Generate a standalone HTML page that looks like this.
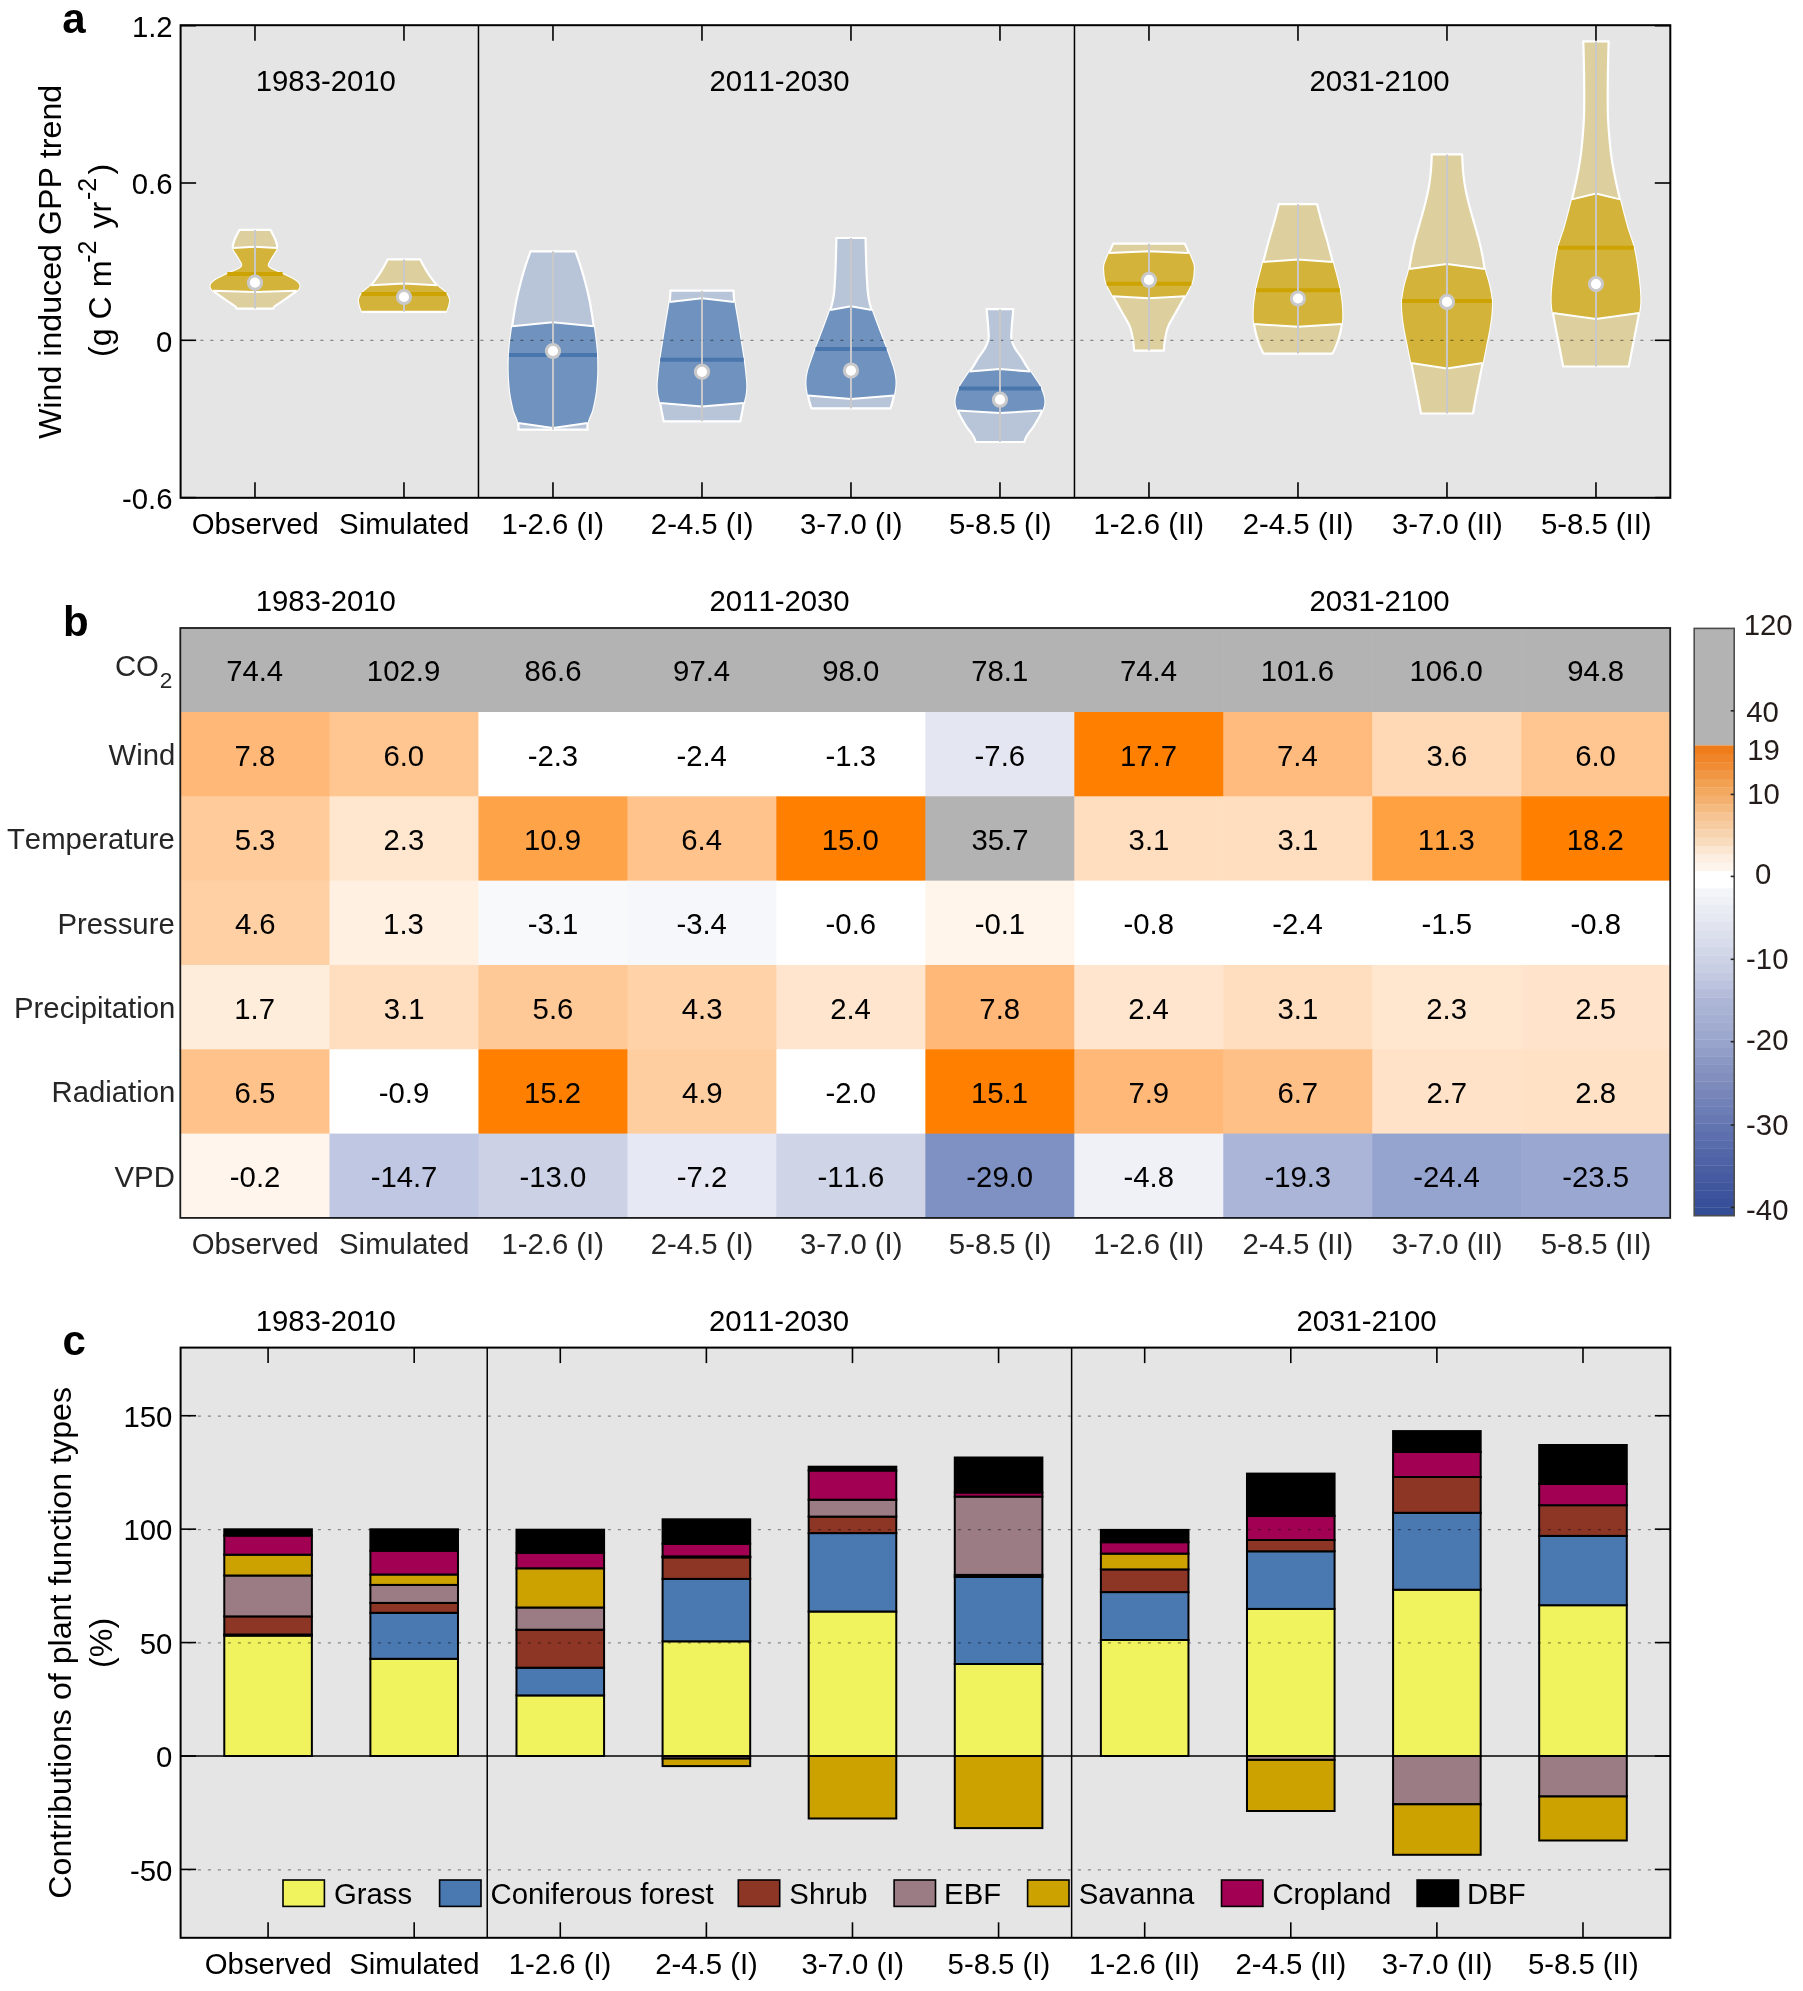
<!DOCTYPE html>
<html><head><meta charset="utf-8"><title>Figure</title>
<style>
html,body{margin:0;padding:0;background:#fff;}
svg{display:block;will-change:transform;}
text{font-family:"Liberation Sans",Arial,Helvetica,sans-serif;font-kerning:none;}
</style></head><body>
<svg width="1803" height="1991" viewBox="0 0 1803 1991">
<rect width="1803" height="1991" fill="#fff"/>
<rect x="180.6" y="25.2" width="1489.7" height="472.6" fill="#e5e5e5"/>
<polygon points="270.47,229.9 271.05,230.9 271.6,231.89 272.12,232.89 272.62,233.88 273.11,234.88 273.58,235.88 274.05,236.87 274.51,237.87 274.96,238.87 275.38,239.86 275.77,240.86 276.12,241.85 276.43,242.85 276.7,243.85 276.92,244.84 277.09,245.84 277.13,246.84 277.01,247.83 276.73,248.83 276.29,249.82 275.71,250.82 275.09,251.82 274.44,252.81 273.78,253.81 273.13,254.81 272.48,255.8 271.85,256.8 271.23,257.79 270.64,258.79 270.06,259.79 269.49,260.78 268.93,261.78 268.38,262.77 267.93,263.77 267.72,264.77 267.83,265.76 268.32,266.76 269.29,267.76 270.8,268.75 272.83,269.75 275.08,270.74 277.45,271.74 279.81,272.74 282.04,273.73 284.17,274.73 286.27,275.73 288.32,276.72 290.33,277.72 292.26,278.71 293.99,279.71 295.51,280.71 296.79,281.7 297.84,282.7 298.63,283.69 299.16,284.69 299.43,285.69 299.41,286.68 299.13,287.68 298.62,288.68 297.9,289.67 296.96,290.67 295.81,291.66 294.47,292.66 293.08,293.66 291.69,294.65 290.3,295.65 288.89,296.65 287.48,297.64 286.07,298.64 284.64,299.63 283.2,300.63 281.72,301.63 280.22,302.62 278.72,303.62 277.22,304.62 275.76,305.61 274.38,306.61 273.64,307.6 273.37,308.6 236.57,308.6 236.3,307.6 235.56,306.61 234.18,305.61 232.72,304.62 231.22,303.62 229.72,302.62 228.22,301.63 226.74,300.63 225.3,299.63 223.87,298.64 222.46,297.64 221.05,296.65 219.64,295.65 218.25,294.65 216.86,293.66 215.47,292.66 214.13,291.66 212.98,290.67 212.04,289.67 211.32,288.68 210.81,287.68 210.53,286.68 210.51,285.69 210.78,284.69 211.31,283.69 212.1,282.7 213.15,281.7 214.43,280.71 215.95,279.71 217.68,278.71 219.61,277.72 221.62,276.72 223.67,275.73 225.77,274.73 227.9,273.73 230.13,272.74 232.49,271.74 234.86,270.74 237.11,269.75 239.14,268.75 240.65,267.76 241.62,266.76 242.11,265.76 242.22,264.77 242.01,263.77 241.56,262.77 241.01,261.78 240.45,260.78 239.88,259.79 239.3,258.79 238.71,257.79 238.09,256.8 237.46,255.8 236.81,254.81 236.16,253.81 235.5,252.81 234.85,251.82 234.23,250.82 233.65,249.82 233.21,248.83 232.93,247.83 232.81,246.84 232.85,245.84 233.02,244.84 233.24,243.85 233.51,242.85 233.82,241.85 234.17,240.86 234.56,239.86 234.98,238.87 235.43,237.87 235.89,236.87 236.36,235.88 236.83,234.88 237.32,233.88 237.82,232.89 238.34,231.89 238.89,230.9 239.47,229.9" fill="#ddd09e" stroke="#fff" stroke-width="2.2" stroke-linejoin="round"/>
<polygon points="254.97,246.8 276.96,248 276.73,248.83 276.29,249.82 275.71,250.82 275.09,251.82 274.44,252.81 273.78,253.81 273.13,254.81 272.48,255.8 271.85,256.8 271.23,257.79 270.64,258.79 270.06,259.79 269.49,260.78 268.93,261.78 268.38,262.77 267.93,263.77 267.72,264.77 267.83,265.76 268.32,266.76 269.29,267.76 270.8,268.75 272.83,269.75 275.08,270.74 277.45,271.74 279.81,272.74 282.04,273.73 284.17,274.73 286.27,275.73 288.32,276.72 290.33,277.72 292.26,278.71 293.99,279.71 295.51,280.71 296.79,281.7 297.84,282.7 298.63,283.69 299.16,284.69 299.43,285.69 299.41,286.68 299.13,287.68 298.62,288.68 297.9,289.67 296.96,290.67 296.81,290.8 254.97,292 213.13,290.8 212.98,290.67 212.04,289.67 211.32,288.68 210.81,287.68 210.53,286.68 210.51,285.69 210.78,284.69 211.31,283.69 212.1,282.7 213.15,281.7 214.43,280.71 215.95,279.71 217.68,278.71 219.61,277.72 221.62,276.72 223.67,275.73 225.77,274.73 227.9,273.73 230.13,272.74 232.49,271.74 234.86,270.74 237.11,269.75 239.14,268.75 240.65,267.76 241.62,266.76 242.11,265.76 242.22,264.77 242.01,263.77 241.56,262.77 241.01,261.78 240.45,260.78 239.88,259.79 239.3,258.79 238.71,257.79 238.09,256.8 237.46,255.8 236.81,254.81 236.16,253.81 235.5,252.81 234.85,251.82 234.23,250.82 233.65,249.82 233.21,248.83 232.98,248" fill="#d3b33a"/>
<polyline points="232.98,248 254.97,246.8 276.96,248" fill="none" stroke="#fff" stroke-width="2"/>
<polyline points="213.13,290.8 254.97,292 296.81,290.8" fill="none" stroke="#fff" stroke-width="2"/>
<line x1="227.33" y1="274" x2="282.61" y2="274" stroke="#cca300" stroke-width="4"/>
<polygon points="420.27,259.4 420.73,260.39 421.21,261.37 421.71,262.36 422.23,263.35 422.76,264.33 423.3,265.32 423.85,266.31 424.42,267.29 424.99,268.28 425.57,269.27 426.16,270.25 426.75,271.24 427.35,272.23 427.96,273.22 428.6,274.2 429.26,275.19 429.94,276.18 430.64,277.16 431.36,278.15 432.09,279.14 432.84,280.12 433.61,281.11 434.38,282.1 435.17,283.08 435.97,284.07 436.77,285.06 437.65,286.04 438.75,287.03 439.99,288.02 441.3,289 442.6,289.99 443.82,290.98 444.86,291.96 445.72,292.95 446.47,293.94 447.14,294.92 447.72,295.91 448.2,296.9 448.57,297.88 448.84,298.87 448.99,299.86 449.03,300.85 448.94,301.83 448.79,302.82 448.61,303.81 448.39,304.79 448.13,305.78 447.83,306.77 447.49,307.75 447.12,308.74 446.74,309.73 446.33,310.71 445.87,311.7 362.07,311.7 361.61,310.71 361.2,309.73 360.82,308.74 360.45,307.75 360.11,306.77 359.81,305.78 359.55,304.79 359.33,303.81 359.15,302.82 359,301.83 358.91,300.85 358.95,299.86 359.1,298.87 359.37,297.88 359.74,296.9 360.22,295.91 360.8,294.92 361.47,293.94 362.22,292.95 363.08,291.96 364.12,290.98 365.34,289.99 366.64,289 367.95,288.02 369.19,287.03 370.29,286.04 371.17,285.06 371.97,284.07 372.77,283.08 373.56,282.1 374.33,281.11 375.1,280.12 375.85,279.14 376.58,278.15 377.3,277.16 378,276.18 378.68,275.19 379.34,274.2 379.98,273.22 380.59,272.23 381.19,271.24 381.78,270.25 382.37,269.27 382.95,268.28 383.52,267.29 384.09,266.31 384.64,265.32 385.18,264.33 385.71,263.35 386.23,262.36 386.73,261.37 387.21,260.39 387.67,259.4" fill="#ddd09e" stroke="#fff" stroke-width="2.2" stroke-linejoin="round"/>
<polygon points="403.97,283.5 436.99,285.3 437.65,286.04 438.75,287.03 439.99,288.02 441.3,289 442.6,289.99 443.82,290.98 444.86,291.96 445.72,292.95 446.47,293.94 447.14,294.92 447.72,295.91 448.2,296.9 448.57,297.88 448.84,298.87 448.99,299.86 449.03,300.85 448.94,301.83 448.79,302.82 448.61,303.81 448.39,304.79 448.13,305.78 447.83,306.77 447.49,307.75 447.12,308.74 446.74,309.73 446.33,310.71 445.87,311.7 403.97,311.7 362.07,311.7 361.61,310.71 361.2,309.73 360.82,308.74 360.45,307.75 360.11,306.77 359.81,305.78 359.55,304.79 359.33,303.81 359.15,302.82 359,301.83 358.91,300.85 358.95,299.86 359.1,298.87 359.37,297.88 359.74,296.9 360.22,295.91 360.8,294.92 361.47,293.94 362.22,292.95 363.08,291.96 364.12,290.98 365.34,289.99 366.64,289 367.95,288.02 369.19,287.03 370.29,286.04 370.95,285.3" fill="#d3b33a"/>
<polyline points="370.95,285.3 403.97,283.5 436.99,285.3" fill="none" stroke="#fff" stroke-width="2"/>
<polyline points="362.07,311.7 403.97,311.7 445.87,311.7" fill="none" stroke="#fff" stroke-width="2"/>
<line x1="361.5" y1="293.9" x2="446.44" y2="293.9" stroke="#cca300" stroke-width="4"/>
<polygon points="575.47,251.3 575.83,252.3 576.18,253.29 576.54,254.29 576.89,255.29 577.24,256.28 577.58,257.28 577.92,258.28 578.26,259.27 578.6,260.27 578.93,261.27 579.26,262.26 579.59,263.26 579.91,264.26 580.23,265.25 580.55,266.25 580.86,267.25 581.17,268.24 581.48,269.24 581.79,270.24 582.09,271.23 582.39,272.23 582.68,273.23 582.97,274.22 583.26,275.22 583.55,276.22 583.83,277.21 584.11,278.21 584.38,279.21 584.65,280.2 584.92,281.2 585.19,282.2 585.45,283.19 585.71,284.19 585.97,285.19 586.23,286.18 586.48,287.18 586.73,288.18 586.98,289.17 587.22,290.17 587.47,291.17 587.7,292.16 587.94,293.16 588.17,294.16 588.39,295.15 588.61,296.15 588.83,297.15 589.05,298.14 589.25,299.14 589.46,300.14 589.66,301.13 589.85,302.13 590.04,303.13 590.23,304.12 590.41,305.12 590.59,306.12 590.76,307.11 590.93,308.11 591.1,309.11 591.27,310.1 591.44,311.1 591.6,312.1 591.77,313.09 591.93,314.09 592.09,315.09 592.24,316.08 592.4,317.08 592.56,318.08 592.71,319.07 592.86,320.07 593.01,321.07 593.16,322.06 593.31,323.06 593.46,324.06 593.6,325.05 593.75,326.05 593.89,327.05 594.03,328.04 594.18,329.04 594.32,330.04 594.45,331.03 594.59,332.03 594.73,333.03 594.86,334.02 594.99,335.02 595.12,336.02 595.25,337.01 595.38,338.01 595.5,339.01 595.63,340 595.75,341 595.86,341.99 595.98,342.99 596.09,343.99 596.21,344.98 596.31,345.98 596.42,346.98 596.52,347.97 596.61,348.97 596.69,349.97 596.76,350.96 596.83,351.96 596.89,352.96 596.95,353.95 597,354.95 597.04,355.95 597.08,356.94 597.11,357.94 597.14,358.94 597.17,359.93 597.19,360.93 597.21,361.93 597.23,362.92 597.24,363.92 597.25,364.92 597.26,365.91 597.27,366.91 597.28,367.91 597.28,368.9 597.27,369.9 597.25,370.9 597.24,371.89 597.21,372.89 597.18,373.89 597.14,374.88 597.1,375.88 597.06,376.88 597.01,377.87 596.96,378.87 596.9,379.87 596.83,380.86 596.77,381.86 596.7,382.86 596.62,383.85 596.55,384.85 596.46,385.85 596.38,386.84 596.29,387.84 596.2,388.84 596.1,389.83 595.98,390.83 595.86,391.83 595.73,392.82 595.58,393.82 595.43,394.82 595.27,395.81 595.1,396.81 594.92,397.81 594.74,398.8 594.55,399.8 594.35,400.8 594.15,401.79 593.94,402.79 593.72,403.79 593.5,404.78 593.28,405.78 593.05,406.78 592.82,407.77 592.59,408.77 592.35,409.77 592.08,410.76 591.76,411.76 591.39,412.76 590.99,413.75 590.57,414.75 590.13,415.75 589.71,416.74 589.29,417.74 588.9,418.74 588.54,419.73 588.22,420.73 587.97,421.73 587.76,422.72 587.61,423.72 587.51,424.72 587.44,425.71 587.42,426.71 587.44,427.71 587.49,428.7 587.57,429.7 518.37,429.7 518.45,428.7 518.5,427.71 518.52,426.71 518.5,425.71 518.43,424.72 518.33,423.72 518.18,422.72 517.97,421.73 517.72,420.73 517.4,419.73 517.04,418.74 516.65,417.74 516.23,416.74 515.81,415.75 515.37,414.75 514.95,413.75 514.55,412.76 514.18,411.76 513.86,410.76 513.59,409.77 513.35,408.77 513.12,407.77 512.89,406.78 512.66,405.78 512.44,404.78 512.22,403.79 512,402.79 511.79,401.79 511.59,400.8 511.39,399.8 511.2,398.8 511.02,397.81 510.84,396.81 510.67,395.81 510.51,394.82 510.36,393.82 510.21,392.82 510.08,391.83 509.96,390.83 509.84,389.83 509.74,388.84 509.65,387.84 509.56,386.84 509.48,385.85 509.39,384.85 509.32,383.85 509.24,382.86 509.17,381.86 509.11,380.86 509.04,379.87 508.98,378.87 508.93,377.87 508.88,376.88 508.84,375.88 508.8,374.88 508.76,373.89 508.73,372.89 508.7,371.89 508.69,370.9 508.67,369.9 508.66,368.9 508.66,367.91 508.67,366.91 508.68,365.91 508.69,364.92 508.7,363.92 508.71,362.92 508.73,361.93 508.75,360.93 508.77,359.93 508.8,358.94 508.83,357.94 508.86,356.94 508.9,355.95 508.94,354.95 508.99,353.95 509.05,352.96 509.11,351.96 509.18,350.96 509.25,349.97 509.33,348.97 509.42,347.97 509.52,346.98 509.63,345.98 509.73,344.98 509.85,343.99 509.96,342.99 510.08,341.99 510.19,341 510.31,340 510.44,339.01 510.56,338.01 510.69,337.01 510.82,336.02 510.95,335.02 511.08,334.02 511.21,333.03 511.35,332.03 511.49,331.03 511.62,330.04 511.76,329.04 511.91,328.04 512.05,327.05 512.19,326.05 512.34,325.05 512.48,324.06 512.63,323.06 512.78,322.06 512.93,321.07 513.08,320.07 513.23,319.07 513.38,318.08 513.54,317.08 513.7,316.08 513.85,315.09 514.01,314.09 514.17,313.09 514.34,312.1 514.5,311.1 514.67,310.1 514.84,309.11 515.01,308.11 515.18,307.11 515.35,306.12 515.53,305.12 515.71,304.12 515.9,303.13 516.09,302.13 516.28,301.13 516.48,300.14 516.69,299.14 516.89,298.14 517.11,297.15 517.33,296.15 517.55,295.15 517.77,294.16 518,293.16 518.24,292.16 518.47,291.17 518.72,290.17 518.96,289.17 519.21,288.18 519.46,287.18 519.71,286.18 519.97,285.19 520.23,284.19 520.49,283.19 520.75,282.2 521.02,281.2 521.29,280.2 521.56,279.21 521.83,278.21 522.11,277.21 522.39,276.22 522.68,275.22 522.97,274.22 523.26,273.23 523.55,272.23 523.85,271.23 524.15,270.24 524.46,269.24 524.77,268.24 525.08,267.25 525.39,266.25 525.71,265.25 526.03,264.26 526.35,263.26 526.68,262.26 527.01,261.27 527.34,260.27 527.68,259.27 528.02,258.28 528.36,257.28 528.7,256.28 529.05,255.29 529.4,254.29 529.76,253.29 530.11,252.3 530.47,251.3" fill="#b8c5d8" stroke="#fff" stroke-width="2.2" stroke-linejoin="round"/>
<polygon points="552.97,322.3 593.77,326.2 593.89,327.05 594.03,328.04 594.18,329.04 594.32,330.04 594.45,331.03 594.59,332.03 594.73,333.03 594.86,334.02 594.99,335.02 595.12,336.02 595.25,337.01 595.38,338.01 595.5,339.01 595.63,340 595.75,341 595.86,341.99 595.98,342.99 596.09,343.99 596.21,344.98 596.31,345.98 596.42,346.98 596.52,347.97 596.61,348.97 596.69,349.97 596.76,350.96 596.83,351.96 596.89,352.96 596.95,353.95 597,354.95 597.04,355.95 597.08,356.94 597.11,357.94 597.14,358.94 597.17,359.93 597.19,360.93 597.21,361.93 597.23,362.92 597.24,363.92 597.25,364.92 597.26,365.91 597.27,366.91 597.28,367.91 597.28,368.9 597.27,369.9 597.25,370.9 597.24,371.89 597.21,372.89 597.18,373.89 597.14,374.88 597.1,375.88 597.06,376.88 597.01,377.87 596.96,378.87 596.9,379.87 596.83,380.86 596.77,381.86 596.7,382.86 596.62,383.85 596.55,384.85 596.46,385.85 596.38,386.84 596.29,387.84 596.2,388.84 596.1,389.83 595.98,390.83 595.86,391.83 595.73,392.82 595.58,393.82 595.43,394.82 595.27,395.81 595.1,396.81 594.92,397.81 594.74,398.8 594.55,399.8 594.35,400.8 594.15,401.79 593.94,402.79 593.72,403.79 593.5,404.78 593.28,405.78 593.05,406.78 592.82,407.77 592.59,408.77 592.35,409.77 592.08,410.76 591.76,411.76 591.39,412.76 590.99,413.75 590.57,414.75 590.13,415.75 589.71,416.74 589.29,417.74 588.9,418.74 588.54,419.73 588.22,420.73 587.97,421.73 587.76,422.72 587.72,423 552.97,428 518.22,423 518.18,422.72 517.97,421.73 517.72,420.73 517.4,419.73 517.04,418.74 516.65,417.74 516.23,416.74 515.81,415.75 515.37,414.75 514.95,413.75 514.55,412.76 514.18,411.76 513.86,410.76 513.59,409.77 513.35,408.77 513.12,407.77 512.89,406.78 512.66,405.78 512.44,404.78 512.22,403.79 512,402.79 511.79,401.79 511.59,400.8 511.39,399.8 511.2,398.8 511.02,397.81 510.84,396.81 510.67,395.81 510.51,394.82 510.36,393.82 510.21,392.82 510.08,391.83 509.96,390.83 509.84,389.83 509.74,388.84 509.65,387.84 509.56,386.84 509.48,385.85 509.39,384.85 509.32,383.85 509.24,382.86 509.17,381.86 509.11,380.86 509.04,379.87 508.98,378.87 508.93,377.87 508.88,376.88 508.84,375.88 508.8,374.88 508.76,373.89 508.73,372.89 508.7,371.89 508.69,370.9 508.67,369.9 508.66,368.9 508.66,367.91 508.67,366.91 508.68,365.91 508.69,364.92 508.7,363.92 508.71,362.92 508.73,361.93 508.75,360.93 508.77,359.93 508.8,358.94 508.83,357.94 508.86,356.94 508.9,355.95 508.94,354.95 508.99,353.95 509.05,352.96 509.11,351.96 509.18,350.96 509.25,349.97 509.33,348.97 509.42,347.97 509.52,346.98 509.63,345.98 509.73,344.98 509.85,343.99 509.96,342.99 510.08,341.99 510.19,341 510.31,340 510.44,339.01 510.56,338.01 510.69,337.01 510.82,336.02 510.95,335.02 511.08,334.02 511.21,333.03 511.35,332.03 511.49,331.03 511.62,330.04 511.76,329.04 511.91,328.04 512.05,327.05 512.17,326.2" fill="#7092be"/>
<polyline points="512.17,326.2 552.97,322.3 593.77,326.2" fill="none" stroke="#fff" stroke-width="2"/>
<polyline points="518.22,423 552.97,428 587.72,423" fill="none" stroke="#fff" stroke-width="2"/>
<line x1="508.94" y1="355.1" x2="597" y2="355.1" stroke="#4a76ae" stroke-width="4"/>
<polygon points="733.57,290.7 733.6,291.7 733.62,292.69 733.66,293.69 733.7,294.69 733.75,295.68 733.81,296.68 733.88,297.68 733.97,298.68 734.07,299.67 734.19,300.67 734.33,301.67 734.49,302.66 734.65,303.66 734.81,304.66 734.97,305.65 735.13,306.65 735.3,307.65 735.46,308.65 735.63,309.64 735.79,310.64 735.96,311.64 736.12,312.63 736.29,313.63 736.46,314.63 736.63,315.62 736.79,316.62 736.96,317.62 737.13,318.61 737.3,319.61 737.46,320.61 737.63,321.61 737.79,322.6 737.96,323.6 738.12,324.6 738.29,325.59 738.45,326.59 738.61,327.59 738.78,328.58 738.94,329.58 739.09,330.58 739.25,331.57 739.41,332.57 739.57,333.57 739.73,334.57 739.89,335.56 740.04,336.56 740.2,337.56 740.36,338.55 740.52,339.55 740.67,340.55 740.83,341.54 740.99,342.54 741.14,343.54 741.3,344.54 741.46,345.53 741.61,346.53 741.77,347.53 741.93,348.52 742.08,349.52 742.24,350.52 742.39,351.51 742.55,352.51 742.7,353.51 742.86,354.5 743.01,355.5 743.17,356.5 743.32,357.5 743.47,358.49 743.62,359.49 743.76,360.49 743.9,361.48 744.04,362.48 744.17,363.48 744.3,364.47 744.43,365.47 744.55,366.47 744.67,367.46 744.79,368.46 744.9,369.46 745.01,370.46 745.12,371.45 745.23,372.45 745.33,373.45 745.43,374.44 745.53,375.44 745.63,376.44 745.72,377.43 745.81,378.43 745.9,379.43 745.99,380.43 746.07,381.42 746.15,382.42 746.2,383.42 746.24,384.41 746.26,385.41 746.26,386.41 746.24,387.4 746.21,388.4 746.15,389.4 746.08,390.39 745.99,391.39 745.88,392.39 745.76,393.39 745.62,394.38 745.45,395.38 745.27,396.38 745.07,397.37 744.84,398.37 744.6,399.37 744.35,400.36 744.12,401.36 743.9,402.36 743.7,403.35 743.52,404.35 743.35,405.35 743.17,406.35 743,407.34 742.82,408.34 742.65,409.34 742.47,410.33 742.29,411.33 742.1,412.33 741.91,413.32 741.71,414.32 741.51,415.32 741.31,416.32 741.11,417.31 740.9,418.31 740.7,419.31 740.48,420.3 740.27,421.3 663.67,421.3 663.46,420.3 663.24,419.31 663.04,418.31 662.83,417.31 662.63,416.32 662.43,415.32 662.23,414.32 662.03,413.32 661.84,412.33 661.65,411.33 661.47,410.33 661.29,409.34 661.12,408.34 660.94,407.34 660.77,406.35 660.59,405.35 660.42,404.35 660.24,403.35 660.04,402.36 659.82,401.36 659.59,400.36 659.34,399.37 659.1,398.37 658.87,397.37 658.67,396.38 658.49,395.38 658.32,394.38 658.18,393.39 658.06,392.39 657.95,391.39 657.86,390.39 657.79,389.4 657.73,388.4 657.7,387.4 657.68,386.41 657.68,385.41 657.7,384.41 657.74,383.42 657.79,382.42 657.87,381.42 657.95,380.43 658.04,379.43 658.13,378.43 658.22,377.43 658.31,376.44 658.41,375.44 658.51,374.44 658.61,373.45 658.71,372.45 658.82,371.45 658.93,370.46 659.04,369.46 659.15,368.46 659.27,367.46 659.39,366.47 659.51,365.47 659.64,364.47 659.77,363.48 659.9,362.48 660.04,361.48 660.18,360.49 660.32,359.49 660.47,358.49 660.62,357.5 660.77,356.5 660.93,355.5 661.08,354.5 661.24,353.51 661.39,352.51 661.55,351.51 661.7,350.52 661.86,349.52 662.01,348.52 662.17,347.53 662.33,346.53 662.48,345.53 662.64,344.54 662.8,343.54 662.95,342.54 663.11,341.54 663.27,340.55 663.42,339.55 663.58,338.55 663.74,337.56 663.9,336.56 664.05,335.56 664.21,334.57 664.37,333.57 664.53,332.57 664.69,331.57 664.85,330.58 665,329.58 665.16,328.58 665.33,327.59 665.49,326.59 665.65,325.59 665.82,324.6 665.98,323.6 666.15,322.6 666.31,321.61 666.48,320.61 666.64,319.61 666.81,318.61 666.98,317.62 667.15,316.62 667.31,315.62 667.48,314.63 667.65,313.63 667.82,312.63 667.98,311.64 668.15,310.64 668.31,309.64 668.48,308.65 668.64,307.65 668.81,306.65 668.97,305.65 669.13,304.66 669.29,303.66 669.45,302.66 669.61,301.67 669.75,300.67 669.87,299.67 669.97,298.68 670.06,297.68 670.13,296.68 670.19,295.68 670.24,294.69 670.28,293.69 670.32,292.69 670.34,291.7 670.37,290.7" fill="#b8c5d8" stroke="#fff" stroke-width="2.2" stroke-linejoin="round"/>
<polygon points="701.97,298.2 734.37,301.9 734.49,302.66 734.65,303.66 734.81,304.66 734.97,305.65 735.13,306.65 735.3,307.65 735.46,308.65 735.63,309.64 735.79,310.64 735.96,311.64 736.12,312.63 736.29,313.63 736.46,314.63 736.63,315.62 736.79,316.62 736.96,317.62 737.13,318.61 737.3,319.61 737.46,320.61 737.63,321.61 737.79,322.6 737.96,323.6 738.12,324.6 738.29,325.59 738.45,326.59 738.61,327.59 738.78,328.58 738.94,329.58 739.09,330.58 739.25,331.57 739.41,332.57 739.57,333.57 739.73,334.57 739.89,335.56 740.04,336.56 740.2,337.56 740.36,338.55 740.52,339.55 740.67,340.55 740.83,341.54 740.99,342.54 741.14,343.54 741.3,344.54 741.46,345.53 741.61,346.53 741.77,347.53 741.93,348.52 742.08,349.52 742.24,350.52 742.39,351.51 742.55,352.51 742.7,353.51 742.86,354.5 743.01,355.5 743.17,356.5 743.32,357.5 743.47,358.49 743.62,359.49 743.76,360.49 743.9,361.48 744.04,362.48 744.17,363.48 744.3,364.47 744.43,365.47 744.55,366.47 744.67,367.46 744.79,368.46 744.9,369.46 745.01,370.46 745.12,371.45 745.23,372.45 745.33,373.45 745.43,374.44 745.53,375.44 745.63,376.44 745.72,377.43 745.81,378.43 745.9,379.43 745.99,380.43 746.07,381.42 746.15,382.42 746.2,383.42 746.24,384.41 746.26,385.41 746.26,386.41 746.24,387.4 746.21,388.4 746.15,389.4 746.08,390.39 745.99,391.39 745.88,392.39 745.76,393.39 745.62,394.38 745.45,395.38 745.27,396.38 745.07,397.37 744.84,398.37 744.6,399.37 744.35,400.36 744.12,401.36 743.9,402.36 743.77,403 701.97,406.4 660.17,403 660.04,402.36 659.82,401.36 659.59,400.36 659.34,399.37 659.1,398.37 658.87,397.37 658.67,396.38 658.49,395.38 658.32,394.38 658.18,393.39 658.06,392.39 657.95,391.39 657.86,390.39 657.79,389.4 657.73,388.4 657.7,387.4 657.68,386.41 657.68,385.41 657.7,384.41 657.74,383.42 657.79,382.42 657.87,381.42 657.95,380.43 658.04,379.43 658.13,378.43 658.22,377.43 658.31,376.44 658.41,375.44 658.51,374.44 658.61,373.45 658.71,372.45 658.82,371.45 658.93,370.46 659.04,369.46 659.15,368.46 659.27,367.46 659.39,366.47 659.51,365.47 659.64,364.47 659.77,363.48 659.9,362.48 660.04,361.48 660.18,360.49 660.32,359.49 660.47,358.49 660.62,357.5 660.77,356.5 660.93,355.5 661.08,354.5 661.24,353.51 661.39,352.51 661.55,351.51 661.7,350.52 661.86,349.52 662.01,348.52 662.17,347.53 662.33,346.53 662.48,345.53 662.64,344.54 662.8,343.54 662.95,342.54 663.11,341.54 663.27,340.55 663.42,339.55 663.58,338.55 663.74,337.56 663.9,336.56 664.05,335.56 664.21,334.57 664.37,333.57 664.53,332.57 664.69,331.57 664.85,330.58 665,329.58 665.16,328.58 665.33,327.59 665.49,326.59 665.65,325.59 665.82,324.6 665.98,323.6 666.15,322.6 666.31,321.61 666.48,320.61 666.64,319.61 666.81,318.61 666.98,317.62 667.15,316.62 667.31,315.62 667.48,314.63 667.65,313.63 667.82,312.63 667.98,311.64 668.15,310.64 668.31,309.64 668.48,308.65 668.64,307.65 668.81,306.65 668.97,305.65 669.13,304.66 669.29,303.66 669.45,302.66 669.57,301.9" fill="#7092be"/>
<polyline points="669.57,301.9 701.97,298.2 734.37,301.9" fill="none" stroke="#fff" stroke-width="2"/>
<polyline points="660.17,403 701.97,406.4 743.77,403" fill="none" stroke="#fff" stroke-width="2"/>
<line x1="660.28" y1="359.8" x2="743.66" y2="359.8" stroke="#4a76ae" stroke-width="4"/>
<polygon points="865.57,238 865.58,239 865.6,239.99 865.62,240.99 865.64,241.99 865.66,242.98 865.68,243.98 865.7,244.98 865.73,245.97 865.75,246.97 865.78,247.96 865.8,248.96 865.83,249.96 865.86,250.95 865.89,251.95 865.92,252.95 865.94,253.94 865.97,254.94 866,255.94 866.03,256.93 866.06,257.93 866.09,258.93 866.12,259.92 866.15,260.92 866.18,261.92 866.21,262.91 866.24,263.91 866.28,264.91 866.31,265.9 866.35,266.9 866.39,267.89 866.43,268.89 866.47,269.89 866.52,270.88 866.56,271.88 866.61,272.88 866.66,273.87 866.71,274.87 866.76,275.87 866.81,276.86 866.86,277.86 866.92,278.86 866.97,279.85 867.03,280.85 867.09,281.85 867.14,282.84 867.2,283.84 867.26,284.84 867.32,285.83 867.38,286.83 867.45,287.82 867.52,288.82 867.6,289.82 867.69,290.81 867.79,291.81 867.89,292.81 868.01,293.8 868.13,294.8 868.27,295.8 868.42,296.79 868.58,297.79 868.75,298.79 868.94,299.78 869.14,300.78 869.36,301.78 869.59,302.77 869.84,303.77 870.11,304.76 870.39,305.76 870.7,306.76 871.02,307.75 871.36,308.75 871.7,309.75 872.05,310.74 872.4,311.74 872.75,312.74 873.11,313.73 873.46,314.73 873.82,315.73 874.18,316.72 874.55,317.72 874.91,318.72 875.28,319.71 875.65,320.71 876.02,321.71 876.39,322.7 876.77,323.7 877.14,324.69 877.52,325.69 877.9,326.69 878.27,327.68 878.65,328.68 879.03,329.68 879.41,330.67 879.79,331.67 880.18,332.67 880.56,333.66 880.94,334.66 881.32,335.66 881.7,336.65 882.09,337.65 882.47,338.65 882.85,339.64 883.23,340.64 883.61,341.64 883.99,342.63 884.38,343.63 884.76,344.62 885.14,345.62 885.51,346.62 885.89,347.61 886.27,348.61 886.64,349.61 887.01,350.6 887.37,351.6 887.74,352.6 888.1,353.59 888.46,354.59 888.82,355.59 889.17,356.58 889.53,357.58 889.88,358.58 890.23,359.57 890.59,360.57 890.94,361.56 891.29,362.56 891.64,363.56 891.98,364.55 892.33,365.55 892.66,366.55 892.97,367.54 893.27,368.54 893.55,369.54 893.82,370.53 894.06,371.53 894.29,372.53 894.5,373.52 894.7,374.52 894.87,375.52 895.02,376.51 895.15,377.51 895.27,378.51 895.36,379.5 895.43,380.5 895.47,381.49 895.49,382.49 895.49,383.49 895.46,384.48 895.4,385.48 895.32,386.48 895.22,387.47 895.1,388.47 894.97,389.47 894.82,390.46 894.65,391.46 894.47,392.46 894.28,393.45 894.09,394.45 893.9,395.45 893.7,396.44 893.49,397.44 893.28,398.44 893.06,399.43 892.83,400.43 892.58,401.42 892.33,402.42 892.05,403.42 891.77,404.41 891.47,405.41 891.15,406.41 890.82,407.4 890.47,408.4 811.47,408.4 811.12,407.4 810.79,406.41 810.47,405.41 810.17,404.41 809.89,403.42 809.61,402.42 809.36,401.42 809.11,400.43 808.88,399.43 808.66,398.44 808.45,397.44 808.24,396.44 808.04,395.45 807.85,394.45 807.66,393.45 807.47,392.46 807.29,391.46 807.12,390.46 806.97,389.47 806.84,388.47 806.72,387.47 806.62,386.48 806.54,385.48 806.48,384.48 806.45,383.49 806.45,382.49 806.47,381.49 806.51,380.5 806.58,379.5 806.67,378.51 806.79,377.51 806.92,376.51 807.07,375.52 807.24,374.52 807.44,373.52 807.65,372.53 807.88,371.53 808.12,370.53 808.39,369.54 808.67,368.54 808.97,367.54 809.28,366.55 809.61,365.55 809.96,364.55 810.3,363.56 810.65,362.56 811,361.56 811.35,360.57 811.71,359.57 812.06,358.58 812.41,357.58 812.77,356.58 813.12,355.59 813.48,354.59 813.84,353.59 814.2,352.6 814.57,351.6 814.93,350.6 815.3,349.61 815.67,348.61 816.05,347.61 816.43,346.62 816.8,345.62 817.18,344.62 817.56,343.63 817.95,342.63 818.33,341.64 818.71,340.64 819.09,339.64 819.47,338.65 819.85,337.65 820.24,336.65 820.62,335.66 821,334.66 821.38,333.66 821.76,332.67 822.15,331.67 822.53,330.67 822.91,329.68 823.29,328.68 823.67,327.68 824.04,326.69 824.42,325.69 824.8,324.69 825.17,323.7 825.55,322.7 825.92,321.71 826.29,320.71 826.66,319.71 827.03,318.72 827.39,317.72 827.76,316.72 828.12,315.73 828.48,314.73 828.83,313.73 829.19,312.74 829.54,311.74 829.89,310.74 830.24,309.75 830.58,308.75 830.92,307.75 831.24,306.76 831.55,305.76 831.83,304.76 832.1,303.77 832.35,302.77 832.58,301.78 832.8,300.78 833,299.78 833.19,298.79 833.36,297.79 833.52,296.79 833.67,295.8 833.81,294.8 833.93,293.8 834.05,292.81 834.15,291.81 834.25,290.81 834.34,289.82 834.42,288.82 834.49,287.82 834.56,286.83 834.62,285.83 834.68,284.84 834.74,283.84 834.8,282.84 834.85,281.85 834.91,280.85 834.97,279.85 835.02,278.86 835.08,277.86 835.13,276.86 835.18,275.87 835.23,274.87 835.28,273.87 835.33,272.88 835.38,271.88 835.42,270.88 835.47,269.89 835.51,268.89 835.55,267.89 835.59,266.9 835.63,265.9 835.66,264.91 835.7,263.91 835.73,262.91 835.76,261.92 835.79,260.92 835.82,259.92 835.85,258.93 835.88,257.93 835.91,256.93 835.94,255.94 835.97,254.94 836,253.94 836.02,252.95 836.05,251.95 836.08,250.95 836.11,249.96 836.14,248.96 836.16,247.96 836.19,246.97 836.21,245.97 836.24,244.98 836.26,243.98 836.28,242.98 836.3,241.99 836.32,240.99 836.34,239.99 836.36,239 836.37,238" fill="#b8c5d8" stroke="#fff" stroke-width="2.2" stroke-linejoin="round"/>
<polygon points="850.97,306.2 871.76,309.9 872.05,310.74 872.4,311.74 872.75,312.74 873.11,313.73 873.46,314.73 873.82,315.73 874.18,316.72 874.55,317.72 874.91,318.72 875.28,319.71 875.65,320.71 876.02,321.71 876.39,322.7 876.77,323.7 877.14,324.69 877.52,325.69 877.9,326.69 878.27,327.68 878.65,328.68 879.03,329.68 879.41,330.67 879.79,331.67 880.18,332.67 880.56,333.66 880.94,334.66 881.32,335.66 881.7,336.65 882.09,337.65 882.47,338.65 882.85,339.64 883.23,340.64 883.61,341.64 883.99,342.63 884.38,343.63 884.76,344.62 885.14,345.62 885.51,346.62 885.89,347.61 886.27,348.61 886.64,349.61 887.01,350.6 887.37,351.6 887.74,352.6 888.1,353.59 888.46,354.59 888.82,355.59 889.17,356.58 889.53,357.58 889.88,358.58 890.23,359.57 890.59,360.57 890.94,361.56 891.29,362.56 891.64,363.56 891.98,364.55 892.33,365.55 892.66,366.55 892.97,367.54 893.27,368.54 893.55,369.54 893.82,370.53 894.06,371.53 894.29,372.53 894.5,373.52 894.7,374.52 894.87,375.52 895.02,376.51 895.15,377.51 895.27,378.51 895.36,379.5 895.43,380.5 895.47,381.49 895.49,382.49 895.49,383.49 895.46,384.48 895.4,385.48 895.32,386.48 895.22,387.47 895.1,388.47 894.97,389.47 894.82,390.46 894.65,391.46 894.47,392.46 894.28,393.45 894.09,394.45 893.9,395.45 893.89,395.5 850.97,398.9 808.05,395.5 808.04,395.45 807.85,394.45 807.66,393.45 807.47,392.46 807.29,391.46 807.12,390.46 806.97,389.47 806.84,388.47 806.72,387.47 806.62,386.48 806.54,385.48 806.48,384.48 806.45,383.49 806.45,382.49 806.47,381.49 806.51,380.5 806.58,379.5 806.67,378.51 806.79,377.51 806.92,376.51 807.07,375.52 807.24,374.52 807.44,373.52 807.65,372.53 807.88,371.53 808.12,370.53 808.39,369.54 808.67,368.54 808.97,367.54 809.28,366.55 809.61,365.55 809.96,364.55 810.3,363.56 810.65,362.56 811,361.56 811.35,360.57 811.71,359.57 812.06,358.58 812.41,357.58 812.77,356.58 813.12,355.59 813.48,354.59 813.84,353.59 814.2,352.6 814.57,351.6 814.93,350.6 815.3,349.61 815.67,348.61 816.05,347.61 816.43,346.62 816.8,345.62 817.18,344.62 817.56,343.63 817.95,342.63 818.33,341.64 818.71,340.64 819.09,339.64 819.47,338.65 819.85,337.65 820.24,336.65 820.62,335.66 821,334.66 821.38,333.66 821.76,332.67 822.15,331.67 822.53,330.67 822.91,329.68 823.29,328.68 823.67,327.68 824.04,326.69 824.42,325.69 824.8,324.69 825.17,323.7 825.55,322.7 825.92,321.71 826.29,320.71 826.66,319.71 827.03,318.72 827.39,317.72 827.76,316.72 828.12,315.73 828.48,314.73 828.83,313.73 829.19,312.74 829.54,311.74 829.89,310.74 830.18,309.9" fill="#7092be"/>
<polyline points="830.18,309.9 850.97,306.2 871.76,309.9" fill="none" stroke="#fff" stroke-width="2"/>
<polyline points="808.05,395.5 850.97,398.9 893.89,395.5" fill="none" stroke="#fff" stroke-width="2"/>
<line x1="815.49" y1="349.1" x2="886.45" y2="349.1" stroke="#4a76ae" stroke-width="4"/>
<polygon points="1013.37,309.2 1013.26,310.2 1013.16,311.2 1013.06,312.2 1012.96,313.19 1012.87,314.19 1012.77,315.19 1012.68,316.19 1012.59,317.19 1012.5,318.19 1012.42,319.18 1012.33,320.18 1012.24,321.18 1012.15,322.18 1012.06,323.18 1011.97,324.18 1011.88,325.18 1011.8,326.17 1011.72,327.17 1011.65,328.17 1011.58,329.17 1011.52,330.17 1011.46,331.17 1011.4,332.17 1011.36,333.16 1011.31,334.16 1011.27,335.16 1011.26,336.16 1011.3,337.16 1011.4,338.16 1011.55,339.15 1011.75,340.15 1012,341.15 1012.3,342.15 1012.65,343.15 1013.03,344.15 1013.46,345.15 1013.93,346.14 1014.44,347.14 1014.99,348.14 1015.57,349.14 1016.18,350.14 1016.85,351.14 1017.56,352.14 1018.29,353.13 1019.04,354.13 1019.78,355.13 1020.51,356.13 1021.21,357.13 1021.86,358.13 1022.47,359.12 1023.05,360.12 1023.62,361.12 1024.18,362.12 1024.75,363.12 1025.33,364.12 1025.93,365.12 1026.55,366.11 1027.21,367.11 1027.89,368.11 1028.57,369.11 1029.25,370.11 1029.94,371.11 1030.62,372.11 1031.3,373.1 1031.99,374.1 1032.67,375.1 1033.34,376.1 1034.02,377.1 1034.69,378.1 1035.37,379.09 1036.04,380.09 1036.71,381.09 1037.37,382.09 1038.03,383.09 1038.69,384.09 1039.3,385.09 1039.84,386.08 1040.32,387.08 1040.76,388.08 1041.16,389.08 1041.55,390.08 1041.92,391.08 1042.3,392.08 1042.67,393.07 1043.01,394.07 1043.32,395.07 1043.59,396.07 1043.83,397.07 1044.03,398.07 1044.19,399.06 1044.31,400.06 1044.37,401.06 1044.38,402.06 1044.33,403.06 1044.23,404.06 1044.07,405.06 1043.85,406.05 1043.58,407.05 1043.26,408.05 1042.89,409.05 1042.48,410.05 1042.05,411.05 1041.61,412.05 1041.15,413.04 1040.68,414.04 1040.19,415.04 1039.68,416.04 1039.16,417.04 1038.61,418.04 1038.04,419.03 1037.46,420.03 1036.88,421.03 1036.29,422.03 1035.69,423.03 1035.08,424.03 1034.46,425.03 1033.83,426.02 1033.2,427.02 1032.51,428.02 1031.79,429.02 1031.04,430.02 1030.28,431.02 1029.52,432.02 1028.78,433.01 1028.06,434.01 1027.39,435.01 1026.78,436.01 1026.23,437.01 1025.75,438.01 1025.32,439 1024.93,440 1024.58,441 1024.27,442 975.67,442 975.36,441 975.01,440 974.62,439 974.19,438.01 973.71,437.01 973.16,436.01 972.55,435.01 971.88,434.01 971.16,433.01 970.42,432.02 969.66,431.02 968.9,430.02 968.15,429.02 967.43,428.02 966.74,427.02 966.11,426.02 965.48,425.03 964.86,424.03 964.25,423.03 963.65,422.03 963.06,421.03 962.48,420.03 961.9,419.03 961.33,418.04 960.78,417.04 960.26,416.04 959.75,415.04 959.26,414.04 958.79,413.04 958.33,412.05 957.89,411.05 957.46,410.05 957.05,409.05 956.68,408.05 956.36,407.05 956.09,406.05 955.87,405.06 955.71,404.06 955.61,403.06 955.56,402.06 955.57,401.06 955.63,400.06 955.75,399.06 955.91,398.07 956.11,397.07 956.35,396.07 956.62,395.07 956.93,394.07 957.27,393.07 957.64,392.08 958.02,391.08 958.39,390.08 958.78,389.08 959.18,388.08 959.62,387.08 960.1,386.08 960.64,385.09 961.25,384.09 961.91,383.09 962.57,382.09 963.23,381.09 963.9,380.09 964.57,379.09 965.25,378.1 965.92,377.1 966.6,376.1 967.27,375.1 967.95,374.1 968.64,373.1 969.32,372.11 970,371.11 970.69,370.11 971.37,369.11 972.05,368.11 972.73,367.11 973.39,366.11 974.01,365.12 974.61,364.12 975.19,363.12 975.76,362.12 976.32,361.12 976.89,360.12 977.47,359.12 978.08,358.13 978.73,357.13 979.43,356.13 980.16,355.13 980.9,354.13 981.65,353.13 982.38,352.14 983.09,351.14 983.76,350.14 984.37,349.14 984.95,348.14 985.5,347.14 986.01,346.14 986.48,345.15 986.91,344.15 987.29,343.15 987.64,342.15 987.94,341.15 988.19,340.15 988.39,339.15 988.54,338.16 988.64,337.16 988.68,336.16 988.67,335.16 988.63,334.16 988.58,333.16 988.54,332.17 988.48,331.17 988.42,330.17 988.36,329.17 988.29,328.17 988.22,327.17 988.14,326.17 988.06,325.18 987.97,324.18 987.88,323.18 987.79,322.18 987.7,321.18 987.61,320.18 987.52,319.18 987.44,318.19 987.35,317.19 987.26,316.19 987.17,315.19 987.07,314.19 986.98,313.19 986.88,312.2 986.78,311.2 986.68,310.2 986.57,309.2" fill="#b8c5d8" stroke="#fff" stroke-width="2.2" stroke-linejoin="round"/>
<polygon points="999.97,369 1030.27,371.6 1030.62,372.11 1031.3,373.1 1031.99,374.1 1032.67,375.1 1033.34,376.1 1034.02,377.1 1034.69,378.1 1035.37,379.09 1036.04,380.09 1036.71,381.09 1037.37,382.09 1038.03,383.09 1038.69,384.09 1039.3,385.09 1039.84,386.08 1040.32,387.08 1040.76,388.08 1041.16,389.08 1041.55,390.08 1041.92,391.08 1042.3,392.08 1042.67,393.07 1043.01,394.07 1043.32,395.07 1043.59,396.07 1043.83,397.07 1044.03,398.07 1044.19,399.06 1044.31,400.06 1044.37,401.06 1044.38,402.06 1044.33,403.06 1044.23,404.06 1044.07,405.06 1043.85,406.05 1043.58,407.05 1043.26,408.05 1042.89,409.05 1042.48,410.05 1042.33,410.4 999.97,413 957.61,410.4 957.46,410.05 957.05,409.05 956.68,408.05 956.36,407.05 956.09,406.05 955.87,405.06 955.71,404.06 955.61,403.06 955.56,402.06 955.57,401.06 955.63,400.06 955.75,399.06 955.91,398.07 956.11,397.07 956.35,396.07 956.62,395.07 956.93,394.07 957.27,393.07 957.64,392.08 958.02,391.08 958.39,390.08 958.78,389.08 959.18,388.08 959.62,387.08 960.1,386.08 960.64,385.09 961.25,384.09 961.91,383.09 962.57,382.09 963.23,381.09 963.9,380.09 964.57,379.09 965.25,378.1 965.92,377.1 966.6,376.1 967.27,375.1 967.95,374.1 968.64,373.1 969.32,372.11 969.67,371.6" fill="#7092be"/>
<polyline points="969.67,371.6 999.97,369 1030.27,371.6" fill="none" stroke="#fff" stroke-width="2"/>
<polyline points="957.61,410.4 999.97,413 1042.33,410.4" fill="none" stroke="#fff" stroke-width="2"/>
<line x1="958.97" y1="388.6" x2="1040.97" y2="388.6" stroke="#4a76ae" stroke-width="4"/>
<polygon points="1184.77,243.6 1185.22,244.59 1185.66,245.58 1186.11,246.57 1186.54,247.56 1186.98,248.55 1187.41,249.54 1187.84,250.54 1188.27,251.53 1188.7,252.52 1189.14,253.51 1189.56,254.5 1189.99,255.49 1190.41,256.48 1190.82,257.47 1191.23,258.46 1191.63,259.45 1192.02,260.44 1192.4,261.43 1192.78,262.42 1193.15,263.41 1193.44,264.41 1193.64,265.4 1193.76,266.39 1193.82,267.38 1193.83,268.37 1193.8,269.36 1193.74,270.35 1193.68,271.34 1193.62,272.33 1193.55,273.32 1193.47,274.31 1193.37,275.3 1193.26,276.29 1193.12,277.29 1192.95,278.28 1192.76,279.27 1192.52,280.26 1192.25,281.25 1191.93,282.24 1191.56,283.23 1191.15,284.22 1190.73,285.21 1190.28,286.2 1189.82,287.19 1189.32,288.18 1188.81,289.17 1188.27,290.16 1187.73,291.16 1187.18,292.15 1186.64,293.14 1186.09,294.13 1185.54,295.12 1184.99,296.11 1184.43,297.1 1183.87,298.09 1183.31,299.08 1182.76,300.07 1182.2,301.06 1181.64,302.05 1181.08,303.04 1180.52,304.04 1179.96,305.03 1179.4,306.02 1178.84,307.01 1178.29,308 1177.73,308.99 1177.17,309.98 1176.61,310.97 1176.05,311.96 1175.49,312.95 1174.93,313.94 1174.38,314.93 1173.82,315.92 1173.26,316.91 1172.7,317.91 1172.14,318.9 1171.58,319.89 1171.02,320.88 1170.46,321.87 1169.91,322.86 1169.36,323.85 1168.87,324.84 1168.43,325.83 1168.03,326.82 1167.67,327.81 1167.35,328.8 1167.06,329.79 1166.79,330.79 1166.55,331.78 1166.32,332.77 1166.11,333.76 1165.91,334.75 1165.7,335.74 1165.5,336.73 1165.31,337.72 1165.13,338.71 1164.96,339.7 1164.8,340.69 1164.66,341.68 1164.53,342.67 1164.41,343.66 1164.3,344.66 1164.21,345.65 1164.13,346.64 1164.07,347.63 1164.02,348.62 1163.99,349.61 1163.97,350.6 1133.97,350.6 1133.95,349.61 1133.92,348.62 1133.87,347.63 1133.81,346.64 1133.73,345.65 1133.64,344.66 1133.53,343.66 1133.41,342.67 1133.28,341.68 1133.14,340.69 1132.98,339.7 1132.81,338.71 1132.63,337.72 1132.44,336.73 1132.24,335.74 1132.03,334.75 1131.83,333.76 1131.62,332.77 1131.39,331.78 1131.15,330.79 1130.88,329.79 1130.59,328.8 1130.27,327.81 1129.91,326.82 1129.51,325.83 1129.07,324.84 1128.58,323.85 1128.03,322.86 1127.48,321.87 1126.92,320.88 1126.36,319.89 1125.8,318.9 1125.24,317.91 1124.68,316.91 1124.12,315.92 1123.56,314.93 1123.01,313.94 1122.45,312.95 1121.89,311.96 1121.33,310.97 1120.77,309.98 1120.21,308.99 1119.65,308 1119.1,307.01 1118.54,306.02 1117.98,305.03 1117.42,304.04 1116.86,303.04 1116.3,302.05 1115.74,301.06 1115.18,300.07 1114.63,299.08 1114.07,298.09 1113.51,297.1 1112.95,296.11 1112.4,295.12 1111.85,294.13 1111.3,293.14 1110.76,292.15 1110.21,291.16 1109.67,290.16 1109.13,289.17 1108.62,288.18 1108.12,287.19 1107.66,286.2 1107.21,285.21 1106.79,284.22 1106.38,283.23 1106.01,282.24 1105.69,281.25 1105.42,280.26 1105.18,279.27 1104.99,278.28 1104.82,277.29 1104.68,276.29 1104.57,275.3 1104.47,274.31 1104.39,273.32 1104.32,272.33 1104.26,271.34 1104.2,270.35 1104.14,269.36 1104.11,268.37 1104.12,267.38 1104.18,266.39 1104.3,265.4 1104.5,264.41 1104.79,263.41 1105.16,262.42 1105.54,261.43 1105.92,260.44 1106.31,259.45 1106.71,258.46 1107.12,257.47 1107.53,256.48 1107.95,255.49 1108.38,254.5 1108.8,253.51 1109.24,252.52 1109.67,251.53 1110.1,250.54 1110.53,249.54 1110.96,248.55 1111.4,247.56 1111.83,246.57 1112.28,245.58 1112.72,244.59 1113.17,243.6" fill="#ddd09e" stroke="#fff" stroke-width="2.2" stroke-linejoin="round"/>
<polygon points="1148.97,251.2 1188.87,252.9 1189.14,253.51 1189.56,254.5 1189.99,255.49 1190.41,256.48 1190.82,257.47 1191.23,258.46 1191.63,259.45 1192.02,260.44 1192.4,261.43 1192.78,262.42 1193.15,263.41 1193.44,264.41 1193.64,265.4 1193.76,266.39 1193.82,267.38 1193.83,268.37 1193.8,269.36 1193.74,270.35 1193.68,271.34 1193.62,272.33 1193.55,273.32 1193.47,274.31 1193.37,275.3 1193.26,276.29 1193.12,277.29 1192.95,278.28 1192.76,279.27 1192.52,280.26 1192.25,281.25 1191.93,282.24 1191.56,283.23 1191.15,284.22 1190.73,285.21 1190.28,286.2 1189.82,287.19 1189.32,288.18 1188.81,289.17 1188.27,290.16 1187.73,291.16 1187.18,292.15 1186.64,293.14 1186.09,294.13 1185.54,295.12 1184.99,296.11 1184.94,296.2 1148.97,298.2 1113,296.2 1112.95,296.11 1112.4,295.12 1111.85,294.13 1111.3,293.14 1110.76,292.15 1110.21,291.16 1109.67,290.16 1109.13,289.17 1108.62,288.18 1108.12,287.19 1107.66,286.2 1107.21,285.21 1106.79,284.22 1106.38,283.23 1106.01,282.24 1105.69,281.25 1105.42,280.26 1105.18,279.27 1104.99,278.28 1104.82,277.29 1104.68,276.29 1104.57,275.3 1104.47,274.31 1104.39,273.32 1104.32,272.33 1104.26,271.34 1104.2,270.35 1104.14,269.36 1104.11,268.37 1104.12,267.38 1104.18,266.39 1104.3,265.4 1104.5,264.41 1104.79,263.41 1105.16,262.42 1105.54,261.43 1105.92,260.44 1106.31,259.45 1106.71,258.46 1107.12,257.47 1107.53,256.48 1107.95,255.49 1108.38,254.5 1108.8,253.51 1109.07,252.9" fill="#d3b33a"/>
<polyline points="1109.07,252.9 1148.97,251.2 1188.87,252.9" fill="none" stroke="#fff" stroke-width="2"/>
<polyline points="1113,296.2 1148.97,298.2 1184.94,296.2" fill="none" stroke="#fff" stroke-width="2"/>
<line x1="1106.57" y1="283.7" x2="1191.37" y2="283.7" stroke="#cca300" stroke-width="4"/>
<polygon points="1317.07,204.1 1317.31,205.1 1317.56,206.09 1317.81,207.09 1318.06,208.09 1318.31,209.08 1318.56,210.08 1318.82,211.08 1319.07,212.07 1319.33,213.07 1319.59,214.07 1319.85,215.06 1320.11,216.06 1320.38,217.06 1320.64,218.05 1320.91,219.05 1321.18,220.05 1321.45,221.04 1321.72,222.04 1322,223.04 1322.27,224.03 1322.56,225.03 1322.84,226.03 1323.13,227.02 1323.43,228.02 1323.72,229.02 1324.02,230.01 1324.32,231.01 1324.63,232.01 1324.93,233 1325.23,234 1325.53,235 1325.83,235.99 1326.12,236.99 1326.41,237.99 1326.7,238.98 1326.99,239.98 1327.27,240.98 1327.54,241.97 1327.81,242.97 1328.07,243.97 1328.33,244.96 1328.6,245.96 1328.86,246.96 1329.12,247.95 1329.38,248.95 1329.64,249.95 1329.9,250.94 1330.17,251.94 1330.43,252.94 1330.69,253.93 1330.95,254.93 1331.21,255.93 1331.47,256.92 1331.73,257.92 1331.99,258.92 1332.25,259.91 1332.51,260.91 1332.77,261.91 1333.03,262.9 1333.29,263.9 1333.55,264.9 1333.81,265.89 1334.07,266.89 1334.33,267.89 1334.59,268.88 1334.85,269.88 1335.11,270.88 1335.37,271.87 1335.63,272.87 1335.89,273.87 1336.15,274.86 1336.41,275.86 1336.67,276.86 1336.92,277.85 1337.18,278.85 1337.44,279.85 1337.7,280.84 1337.96,281.84 1338.21,282.84 1338.44,283.83 1338.67,284.83 1338.89,285.83 1339.1,286.82 1339.3,287.82 1339.5,288.82 1339.69,289.81 1339.87,290.81 1340.04,291.81 1340.21,292.8 1340.38,293.8 1340.54,294.8 1340.7,295.79 1340.85,296.79 1341.01,297.79 1341.16,298.78 1341.3,299.78 1341.42,300.78 1341.54,301.77 1341.64,302.77 1341.74,303.77 1341.83,304.76 1341.9,305.76 1341.97,306.76 1342.04,307.75 1342.09,308.75 1342.14,309.75 1342.19,310.74 1342.22,311.74 1342.26,312.74 1342.29,313.73 1342.3,314.73 1342.3,315.73 1342.28,316.72 1342.25,317.72 1342.2,318.72 1342.15,319.71 1342.08,320.71 1341.99,321.71 1341.9,322.7 1341.79,323.7 1341.67,324.7 1341.54,325.69 1341.4,326.69 1341.23,327.69 1341.06,328.68 1340.87,329.68 1340.67,330.68 1340.46,331.67 1340.23,332.67 1339.99,333.67 1339.74,334.66 1339.48,335.66 1339.2,336.66 1338.92,337.65 1338.62,338.65 1338.32,339.65 1338,340.64 1337.67,341.64 1337.32,342.64 1336.95,343.63 1336.57,344.63 1336.17,345.63 1335.76,346.62 1335.33,347.62 1334.89,348.62 1334.44,349.61 1333.96,350.61 1333.48,351.61 1332.98,352.6 1332.47,353.6 1263.47,353.6 1262.96,352.6 1262.46,351.61 1261.98,350.61 1261.5,349.61 1261.05,348.62 1260.61,347.62 1260.18,346.62 1259.77,345.63 1259.37,344.63 1258.99,343.63 1258.62,342.64 1258.27,341.64 1257.94,340.64 1257.62,339.65 1257.32,338.65 1257.02,337.65 1256.74,336.66 1256.46,335.66 1256.2,334.66 1255.95,333.67 1255.71,332.67 1255.48,331.67 1255.27,330.68 1255.07,329.68 1254.88,328.68 1254.71,327.69 1254.54,326.69 1254.4,325.69 1254.27,324.7 1254.15,323.7 1254.04,322.7 1253.95,321.71 1253.86,320.71 1253.79,319.71 1253.74,318.72 1253.69,317.72 1253.66,316.72 1253.64,315.73 1253.64,314.73 1253.65,313.73 1253.68,312.74 1253.72,311.74 1253.75,310.74 1253.8,309.75 1253.85,308.75 1253.9,307.75 1253.97,306.76 1254.04,305.76 1254.11,304.76 1254.2,303.77 1254.3,302.77 1254.4,301.77 1254.52,300.78 1254.64,299.78 1254.78,298.78 1254.93,297.79 1255.09,296.79 1255.24,295.79 1255.4,294.8 1255.56,293.8 1255.73,292.8 1255.9,291.81 1256.07,290.81 1256.25,289.81 1256.44,288.82 1256.64,287.82 1256.84,286.82 1257.05,285.83 1257.27,284.83 1257.5,283.83 1257.73,282.84 1257.98,281.84 1258.24,280.84 1258.5,279.85 1258.76,278.85 1259.02,277.85 1259.27,276.86 1259.53,275.86 1259.79,274.86 1260.05,273.87 1260.31,272.87 1260.57,271.87 1260.83,270.88 1261.09,269.88 1261.35,268.88 1261.61,267.89 1261.87,266.89 1262.13,265.89 1262.39,264.9 1262.65,263.9 1262.91,262.9 1263.17,261.91 1263.43,260.91 1263.69,259.91 1263.95,258.92 1264.21,257.92 1264.47,256.92 1264.73,255.93 1264.99,254.93 1265.25,253.93 1265.51,252.94 1265.77,251.94 1266.04,250.94 1266.3,249.95 1266.56,248.95 1266.82,247.95 1267.08,246.96 1267.34,245.96 1267.61,244.96 1267.87,243.97 1268.13,242.97 1268.4,241.97 1268.67,240.98 1268.95,239.98 1269.24,238.98 1269.53,237.99 1269.82,236.99 1270.11,235.99 1270.41,235 1270.71,234 1271.01,233 1271.31,232.01 1271.62,231.01 1271.92,230.01 1272.22,229.02 1272.51,228.02 1272.81,227.02 1273.1,226.03 1273.38,225.03 1273.67,224.03 1273.94,223.04 1274.22,222.04 1274.49,221.04 1274.76,220.05 1275.03,219.05 1275.3,218.05 1275.56,217.06 1275.83,216.06 1276.09,215.06 1276.35,214.07 1276.61,213.07 1276.87,212.07 1277.12,211.08 1277.38,210.08 1277.63,209.08 1277.88,208.09 1278.13,207.09 1278.38,206.09 1278.63,205.1 1278.87,204.1" fill="#ddd09e" stroke="#fff" stroke-width="2.2" stroke-linejoin="round"/>
<polygon points="1297.97,259.6 1332.77,261.9 1332.77,261.91 1333.03,262.9 1333.29,263.9 1333.55,264.9 1333.81,265.89 1334.07,266.89 1334.33,267.89 1334.59,268.88 1334.85,269.88 1335.11,270.88 1335.37,271.87 1335.63,272.87 1335.89,273.87 1336.15,274.86 1336.41,275.86 1336.67,276.86 1336.92,277.85 1337.18,278.85 1337.44,279.85 1337.7,280.84 1337.96,281.84 1338.21,282.84 1338.44,283.83 1338.67,284.83 1338.89,285.83 1339.1,286.82 1339.3,287.82 1339.5,288.82 1339.69,289.81 1339.87,290.81 1340.04,291.81 1340.21,292.8 1340.38,293.8 1340.54,294.8 1340.7,295.79 1340.85,296.79 1341.01,297.79 1341.16,298.78 1341.3,299.78 1341.42,300.78 1341.54,301.77 1341.64,302.77 1341.74,303.77 1341.83,304.76 1341.9,305.76 1341.97,306.76 1342.04,307.75 1342.09,308.75 1342.14,309.75 1342.19,310.74 1342.22,311.74 1342.26,312.74 1342.29,313.73 1342.3,314.73 1342.3,315.73 1342.28,316.72 1342.25,317.72 1342.2,318.72 1342.15,319.71 1342.08,320.71 1341.99,321.71 1341.9,322.7 1341.79,323.7 1341.76,324 1297.97,326.8 1254.18,324 1254.15,323.7 1254.04,322.7 1253.95,321.71 1253.86,320.71 1253.79,319.71 1253.74,318.72 1253.69,317.72 1253.66,316.72 1253.64,315.73 1253.64,314.73 1253.65,313.73 1253.68,312.74 1253.72,311.74 1253.75,310.74 1253.8,309.75 1253.85,308.75 1253.9,307.75 1253.97,306.76 1254.04,305.76 1254.11,304.76 1254.2,303.77 1254.3,302.77 1254.4,301.77 1254.52,300.78 1254.64,299.78 1254.78,298.78 1254.93,297.79 1255.09,296.79 1255.24,295.79 1255.4,294.8 1255.56,293.8 1255.73,292.8 1255.9,291.81 1256.07,290.81 1256.25,289.81 1256.44,288.82 1256.64,287.82 1256.84,286.82 1257.05,285.83 1257.27,284.83 1257.5,283.83 1257.73,282.84 1257.98,281.84 1258.24,280.84 1258.5,279.85 1258.76,278.85 1259.02,277.85 1259.27,276.86 1259.53,275.86 1259.79,274.86 1260.05,273.87 1260.31,272.87 1260.57,271.87 1260.83,270.88 1261.09,269.88 1261.35,268.88 1261.61,267.89 1261.87,266.89 1262.13,265.89 1262.39,264.9 1262.65,263.9 1262.91,262.9 1263.17,261.91 1263.17,261.9" fill="#d3b33a"/>
<polyline points="1263.17,261.9 1297.97,259.6 1332.77,261.9" fill="none" stroke="#fff" stroke-width="2"/>
<polyline points="1254.18,324 1297.97,326.8 1341.76,324" fill="none" stroke="#fff" stroke-width="2"/>
<line x1="1256.18" y1="290.2" x2="1339.76" y2="290.2" stroke="#cca300" stroke-width="4"/>
<polygon points="1462.17,154.4 1462.2,155.4 1462.23,156.39 1462.26,157.39 1462.3,158.39 1462.34,159.38 1462.38,160.38 1462.43,161.38 1462.48,162.37 1462.54,163.37 1462.6,164.37 1462.66,165.36 1462.72,166.36 1462.79,167.36 1462.86,168.35 1462.94,169.35 1463.02,170.34 1463.1,171.34 1463.2,172.34 1463.29,173.33 1463.39,174.33 1463.5,175.33 1463.61,176.32 1463.72,177.32 1463.84,178.32 1463.96,179.31 1464.09,180.31 1464.22,181.31 1464.36,182.3 1464.51,183.3 1464.67,184.3 1464.83,185.29 1465,186.29 1465.17,187.29 1465.36,188.28 1465.54,189.28 1465.74,190.28 1465.94,191.27 1466.14,192.27 1466.35,193.27 1466.57,194.26 1466.79,195.26 1467.01,196.25 1467.24,197.25 1467.48,198.25 1467.71,199.24 1467.95,200.24 1468.18,201.24 1468.43,202.23 1468.67,203.23 1468.93,204.23 1469.18,205.22 1469.45,206.22 1469.72,207.22 1469.99,208.21 1470.26,209.21 1470.53,210.21 1470.8,211.2 1471.08,212.2 1471.35,213.2 1471.63,214.19 1471.91,215.19 1472.19,216.19 1472.48,217.18 1472.76,218.18 1473.05,219.18 1473.33,220.17 1473.62,221.17 1473.9,222.16 1474.19,223.16 1474.47,224.16 1474.76,225.15 1475.04,226.15 1475.33,227.15 1475.61,228.14 1475.9,229.14 1476.18,230.14 1476.47,231.13 1476.75,232.13 1477.03,233.13 1477.32,234.12 1477.6,235.12 1477.89,236.12 1478.17,237.11 1478.43,238.11 1478.7,239.11 1478.95,240.1 1479.2,241.1 1479.45,242.1 1479.69,243.09 1479.93,244.09 1480.17,245.09 1480.41,246.08 1480.64,247.08 1480.86,248.07 1481.08,249.07 1481.29,250.07 1481.5,251.06 1481.71,252.06 1481.91,253.06 1482.12,254.05 1482.32,255.05 1482.52,256.05 1482.71,257.04 1482.89,258.04 1483.06,259.04 1483.23,260.03 1483.4,261.03 1483.56,262.03 1483.73,263.02 1483.89,264.02 1484.05,265.02 1484.22,266.01 1484.4,267.01 1484.58,268.01 1484.77,269 1484.98,270 1485.21,271 1485.46,271.99 1485.72,272.99 1486,273.98 1486.29,274.98 1486.59,275.98 1486.89,276.97 1487.19,277.97 1487.5,278.97 1487.8,279.96 1488.09,280.96 1488.37,281.96 1488.64,282.95 1488.89,283.95 1489.13,284.95 1489.35,285.94 1489.57,286.94 1489.79,287.94 1490,288.93 1490.2,289.93 1490.39,290.93 1490.58,291.92 1490.75,292.92 1490.92,293.92 1491.08,294.91 1491.22,295.91 1491.36,296.9 1491.48,297.9 1491.59,298.9 1491.68,299.89 1491.77,300.89 1491.83,301.89 1491.88,302.88 1491.92,303.88 1491.94,304.88 1491.94,305.87 1491.92,306.87 1491.89,307.87 1491.83,308.86 1491.77,309.86 1491.71,310.86 1491.64,311.85 1491.56,312.85 1491.47,313.85 1491.38,314.84 1491.28,315.84 1491.18,316.84 1491.07,317.83 1490.95,318.83 1490.83,319.83 1490.7,320.82 1490.57,321.82 1490.43,322.82 1490.28,323.81 1490.13,324.81 1489.97,325.8 1489.81,326.8 1489.64,327.8 1489.47,328.79 1489.29,329.79 1489.11,330.79 1488.92,331.78 1488.73,332.78 1488.53,333.78 1488.34,334.77 1488.14,335.77 1487.94,336.77 1487.74,337.76 1487.54,338.76 1487.34,339.76 1487.13,340.75 1486.93,341.75 1486.73,342.75 1486.53,343.74 1486.33,344.74 1486.13,345.74 1485.93,346.73 1485.73,347.73 1485.53,348.73 1485.33,349.72 1485.13,350.72 1484.92,351.71 1484.72,352.71 1484.52,353.71 1484.32,354.7 1484.12,355.7 1483.92,356.7 1483.73,357.69 1483.53,358.69 1483.33,359.69 1483.13,360.68 1482.93,361.68 1482.73,362.68 1482.54,363.67 1482.34,364.67 1482.14,365.67 1481.94,366.66 1481.75,367.66 1481.55,368.66 1481.35,369.65 1481.15,370.65 1480.96,371.65 1480.76,372.64 1480.56,373.64 1480.37,374.63 1480.17,375.63 1479.97,376.63 1479.77,377.62 1479.58,378.62 1479.38,379.62 1479.18,380.61 1478.99,381.61 1478.79,382.61 1478.59,383.6 1478.4,384.6 1478.2,385.6 1478.01,386.59 1477.81,387.59 1477.61,388.59 1477.42,389.58 1477.22,390.58 1477.03,391.58 1476.84,392.57 1476.64,393.57 1476.45,394.57 1476.26,395.56 1476.07,396.56 1475.88,397.56 1475.69,398.55 1475.51,399.55 1475.32,400.55 1475.14,401.54 1474.95,402.54 1474.77,403.53 1474.59,404.53 1474.41,405.53 1474.22,406.52 1474.04,407.52 1473.86,408.52 1473.68,409.51 1473.51,410.51 1473.33,411.51 1473.15,412.5 1472.97,413.5 1420.97,413.5 1420.79,412.5 1420.61,411.51 1420.43,410.51 1420.26,409.51 1420.08,408.52 1419.9,407.52 1419.72,406.52 1419.53,405.53 1419.35,404.53 1419.17,403.53 1418.99,402.54 1418.8,401.54 1418.62,400.55 1418.43,399.55 1418.25,398.55 1418.06,397.56 1417.87,396.56 1417.68,395.56 1417.49,394.57 1417.3,393.57 1417.1,392.57 1416.91,391.58 1416.72,390.58 1416.52,389.58 1416.33,388.59 1416.13,387.59 1415.93,386.59 1415.74,385.6 1415.54,384.6 1415.35,383.6 1415.15,382.61 1414.95,381.61 1414.76,380.61 1414.56,379.62 1414.36,378.62 1414.17,377.62 1413.97,376.63 1413.77,375.63 1413.57,374.63 1413.38,373.64 1413.18,372.64 1412.98,371.65 1412.79,370.65 1412.59,369.65 1412.39,368.66 1412.19,367.66 1412,366.66 1411.8,365.67 1411.6,364.67 1411.4,363.67 1411.21,362.68 1411.01,361.68 1410.81,360.68 1410.61,359.69 1410.41,358.69 1410.21,357.69 1410.02,356.7 1409.82,355.7 1409.62,354.7 1409.42,353.71 1409.22,352.71 1409.02,351.71 1408.81,350.72 1408.61,349.72 1408.41,348.73 1408.21,347.73 1408.01,346.73 1407.81,345.74 1407.61,344.74 1407.41,343.74 1407.21,342.75 1407.01,341.75 1406.81,340.75 1406.6,339.76 1406.4,338.76 1406.2,337.76 1406,336.77 1405.8,335.77 1405.6,334.77 1405.41,333.78 1405.21,332.78 1405.02,331.78 1404.83,330.79 1404.65,329.79 1404.47,328.79 1404.3,327.8 1404.13,326.8 1403.97,325.8 1403.81,324.81 1403.66,323.81 1403.51,322.82 1403.37,321.82 1403.24,320.82 1403.11,319.83 1402.99,318.83 1402.87,317.83 1402.76,316.84 1402.66,315.84 1402.56,314.84 1402.47,313.85 1402.38,312.85 1402.3,311.85 1402.23,310.86 1402.17,309.86 1402.11,308.86 1402.05,307.87 1402.02,306.87 1402,305.87 1402,304.88 1402.02,303.88 1402.06,302.88 1402.11,301.89 1402.17,300.89 1402.26,299.89 1402.35,298.9 1402.46,297.9 1402.58,296.9 1402.72,295.91 1402.86,294.91 1403.02,293.92 1403.19,292.92 1403.36,291.92 1403.55,290.93 1403.74,289.93 1403.94,288.93 1404.15,287.94 1404.37,286.94 1404.59,285.94 1404.81,284.95 1405.05,283.95 1405.3,282.95 1405.57,281.96 1405.85,280.96 1406.14,279.96 1406.44,278.97 1406.75,277.97 1407.05,276.97 1407.35,275.98 1407.65,274.98 1407.94,273.98 1408.22,272.99 1408.48,271.99 1408.73,271 1408.96,270 1409.17,269 1409.36,268.01 1409.54,267.01 1409.72,266.01 1409.89,265.02 1410.05,264.02 1410.21,263.02 1410.38,262.03 1410.54,261.03 1410.71,260.03 1410.88,259.04 1411.05,258.04 1411.23,257.04 1411.42,256.05 1411.62,255.05 1411.82,254.05 1412.03,253.06 1412.23,252.06 1412.44,251.06 1412.65,250.07 1412.86,249.07 1413.08,248.07 1413.3,247.08 1413.53,246.08 1413.77,245.09 1414.01,244.09 1414.25,243.09 1414.49,242.1 1414.74,241.1 1414.99,240.1 1415.24,239.11 1415.51,238.11 1415.77,237.11 1416.05,236.12 1416.34,235.12 1416.62,234.12 1416.91,233.13 1417.19,232.13 1417.47,231.13 1417.76,230.14 1418.04,229.14 1418.33,228.14 1418.61,227.15 1418.9,226.15 1419.18,225.15 1419.47,224.16 1419.75,223.16 1420.04,222.16 1420.32,221.17 1420.61,220.17 1420.89,219.18 1421.18,218.18 1421.46,217.18 1421.75,216.19 1422.03,215.19 1422.31,214.19 1422.59,213.2 1422.86,212.2 1423.14,211.2 1423.41,210.21 1423.68,209.21 1423.95,208.21 1424.22,207.22 1424.49,206.22 1424.76,205.22 1425.01,204.23 1425.27,203.23 1425.51,202.23 1425.76,201.24 1425.99,200.24 1426.23,199.24 1426.46,198.25 1426.7,197.25 1426.93,196.25 1427.15,195.26 1427.37,194.26 1427.59,193.27 1427.8,192.27 1428,191.27 1428.2,190.28 1428.4,189.28 1428.58,188.28 1428.77,187.29 1428.94,186.29 1429.11,185.29 1429.27,184.3 1429.43,183.3 1429.58,182.3 1429.72,181.31 1429.85,180.31 1429.98,179.31 1430.1,178.32 1430.22,177.32 1430.33,176.32 1430.44,175.33 1430.55,174.33 1430.65,173.33 1430.74,172.34 1430.84,171.34 1430.92,170.34 1431,169.35 1431.08,168.35 1431.15,167.36 1431.22,166.36 1431.28,165.36 1431.34,164.37 1431.4,163.37 1431.46,162.37 1431.51,161.38 1431.56,160.38 1431.6,159.38 1431.64,158.39 1431.68,157.39 1431.71,156.39 1431.74,155.4 1431.77,154.4" fill="#ddd09e" stroke="#fff" stroke-width="2.2" stroke-linejoin="round"/>
<polygon points="1446.97,264.1 1484.77,269 1484.77,269 1484.98,270 1485.21,271 1485.46,271.99 1485.72,272.99 1486,273.98 1486.29,274.98 1486.59,275.98 1486.89,276.97 1487.19,277.97 1487.5,278.97 1487.8,279.96 1488.09,280.96 1488.37,281.96 1488.64,282.95 1488.89,283.95 1489.13,284.95 1489.35,285.94 1489.57,286.94 1489.79,287.94 1490,288.93 1490.2,289.93 1490.39,290.93 1490.58,291.92 1490.75,292.92 1490.92,293.92 1491.08,294.91 1491.22,295.91 1491.36,296.9 1491.48,297.9 1491.59,298.9 1491.68,299.89 1491.77,300.89 1491.83,301.89 1491.88,302.88 1491.92,303.88 1491.94,304.88 1491.94,305.87 1491.92,306.87 1491.89,307.87 1491.83,308.86 1491.77,309.86 1491.71,310.86 1491.64,311.85 1491.56,312.85 1491.47,313.85 1491.38,314.84 1491.28,315.84 1491.18,316.84 1491.07,317.83 1490.95,318.83 1490.83,319.83 1490.7,320.82 1490.57,321.82 1490.43,322.82 1490.28,323.81 1490.13,324.81 1489.97,325.8 1489.81,326.8 1489.64,327.8 1489.47,328.79 1489.29,329.79 1489.11,330.79 1488.92,331.78 1488.73,332.78 1488.53,333.78 1488.34,334.77 1488.14,335.77 1487.94,336.77 1487.74,337.76 1487.54,338.76 1487.34,339.76 1487.13,340.75 1486.93,341.75 1486.73,342.75 1486.53,343.74 1486.33,344.74 1486.13,345.74 1485.93,346.73 1485.73,347.73 1485.53,348.73 1485.33,349.72 1485.13,350.72 1484.92,351.71 1484.72,352.71 1484.52,353.71 1484.32,354.7 1484.12,355.7 1483.92,356.7 1483.73,357.69 1483.53,358.69 1483.33,359.69 1483.13,360.68 1482.93,361.68 1482.73,362.68 1482.67,363 1446.97,368.5 1411.27,363 1411.21,362.68 1411.01,361.68 1410.81,360.68 1410.61,359.69 1410.41,358.69 1410.21,357.69 1410.02,356.7 1409.82,355.7 1409.62,354.7 1409.42,353.71 1409.22,352.71 1409.02,351.71 1408.81,350.72 1408.61,349.72 1408.41,348.73 1408.21,347.73 1408.01,346.73 1407.81,345.74 1407.61,344.74 1407.41,343.74 1407.21,342.75 1407.01,341.75 1406.81,340.75 1406.6,339.76 1406.4,338.76 1406.2,337.76 1406,336.77 1405.8,335.77 1405.6,334.77 1405.41,333.78 1405.21,332.78 1405.02,331.78 1404.83,330.79 1404.65,329.79 1404.47,328.79 1404.3,327.8 1404.13,326.8 1403.97,325.8 1403.81,324.81 1403.66,323.81 1403.51,322.82 1403.37,321.82 1403.24,320.82 1403.11,319.83 1402.99,318.83 1402.87,317.83 1402.76,316.84 1402.66,315.84 1402.56,314.84 1402.47,313.85 1402.38,312.85 1402.3,311.85 1402.23,310.86 1402.17,309.86 1402.11,308.86 1402.05,307.87 1402.02,306.87 1402,305.87 1402,304.88 1402.02,303.88 1402.06,302.88 1402.11,301.89 1402.17,300.89 1402.26,299.89 1402.35,298.9 1402.46,297.9 1402.58,296.9 1402.72,295.91 1402.86,294.91 1403.02,293.92 1403.19,292.92 1403.36,291.92 1403.55,290.93 1403.74,289.93 1403.94,288.93 1404.15,287.94 1404.37,286.94 1404.59,285.94 1404.81,284.95 1405.05,283.95 1405.3,282.95 1405.57,281.96 1405.85,280.96 1406.14,279.96 1406.44,278.97 1406.75,277.97 1407.05,276.97 1407.35,275.98 1407.65,274.98 1407.94,273.98 1408.22,272.99 1408.48,271.99 1408.73,271 1408.96,270 1409.17,269 1409.17,269" fill="#d3b33a"/>
<polyline points="1409.17,269 1446.97,264.1 1484.77,269" fill="none" stroke="#fff" stroke-width="2"/>
<polyline points="1411.27,363 1446.97,368.5 1482.67,363" fill="none" stroke="#fff" stroke-width="2"/>
<line x1="1402.17" y1="300.9" x2="1491.77" y2="300.9" stroke="#cca300" stroke-width="4"/>
<polygon points="1608.67,41.4 1608.64,42.4 1608.6,43.39 1608.57,44.39 1608.54,45.39 1608.51,46.39 1608.48,47.38 1608.45,48.38 1608.42,49.38 1608.39,50.38 1608.37,51.37 1608.34,52.37 1608.31,53.37 1608.29,54.36 1608.27,55.36 1608.24,56.36 1608.22,57.36 1608.2,58.35 1608.17,59.35 1608.15,60.35 1608.13,61.34 1608.11,62.34 1608.09,63.34 1608.07,64.34 1608.05,65.33 1608.03,66.33 1608.01,67.33 1607.99,68.33 1607.97,69.32 1607.95,70.32 1607.93,71.32 1607.91,72.31 1607.89,73.31 1607.88,74.31 1607.86,75.31 1607.85,76.3 1607.83,77.3 1607.82,78.3 1607.81,79.3 1607.8,80.29 1607.79,81.29 1607.78,82.29 1607.77,83.28 1607.76,84.28 1607.75,85.28 1607.75,86.28 1607.74,87.27 1607.73,88.27 1607.73,89.27 1607.73,90.26 1607.72,91.26 1607.72,92.26 1607.72,93.26 1607.72,94.25 1607.72,95.25 1607.72,96.25 1607.72,97.25 1607.72,98.24 1607.72,99.24 1607.72,100.24 1607.73,101.23 1607.73,102.23 1607.74,103.23 1607.74,104.23 1607.75,105.22 1607.75,106.22 1607.76,107.22 1607.77,108.22 1607.78,109.21 1607.79,110.21 1607.81,111.21 1607.83,112.2 1607.86,113.2 1607.89,114.2 1607.92,115.2 1607.96,116.19 1608,117.19 1608.04,118.19 1608.09,119.18 1608.14,120.18 1608.19,121.18 1608.24,122.18 1608.3,123.17 1608.36,124.17 1608.42,125.17 1608.49,126.17 1608.56,127.16 1608.63,128.16 1608.7,129.16 1608.77,130.15 1608.85,131.15 1608.92,132.15 1609,133.15 1609.08,134.14 1609.16,135.14 1609.24,136.14 1609.32,137.13 1609.41,138.13 1609.49,139.13 1609.58,140.13 1609.67,141.12 1609.76,142.12 1609.86,143.12 1609.95,144.12 1610.05,145.11 1610.16,146.11 1610.26,147.11 1610.37,148.1 1610.48,149.1 1610.59,150.1 1610.71,151.1 1610.83,152.09 1610.96,153.09 1611.08,154.09 1611.21,155.09 1611.35,156.08 1611.48,157.08 1611.62,158.08 1611.77,159.07 1611.92,160.07 1612.07,161.07 1612.22,162.07 1612.38,163.06 1612.55,164.06 1612.71,165.06 1612.89,166.05 1613.06,167.05 1613.24,168.05 1613.42,169.05 1613.61,170.04 1613.79,171.04 1613.98,172.04 1614.18,173.04 1614.37,174.03 1614.57,175.03 1614.76,176.03 1614.96,177.02 1615.17,178.02 1615.37,179.02 1615.58,180.02 1615.79,181.01 1616,182.01 1616.21,183.01 1616.43,184.01 1616.64,185 1616.86,186 1617.08,187 1617.31,187.99 1617.53,188.99 1617.76,189.99 1617.98,190.99 1618.21,191.98 1618.45,192.98 1618.68,193.98 1618.91,194.97 1619.15,195.97 1619.39,196.97 1619.62,197.97 1619.86,198.96 1620.11,199.96 1620.35,200.96 1620.59,201.96 1620.84,202.95 1621.09,203.95 1621.34,204.95 1621.59,205.94 1621.84,206.94 1622.1,207.94 1622.35,208.94 1622.61,209.93 1622.87,210.93 1623.13,211.93 1623.39,212.93 1623.65,213.92 1623.91,214.92 1624.18,215.92 1624.44,216.91 1624.71,217.91 1624.97,218.91 1625.24,219.91 1625.51,220.9 1625.78,221.9 1626.05,222.9 1626.32,223.89 1626.59,224.89 1626.87,225.89 1627.15,226.89 1627.44,227.88 1627.74,228.88 1628.05,229.88 1628.38,230.88 1628.7,231.87 1629.04,232.87 1629.37,233.87 1629.72,234.86 1630.06,235.86 1630.4,236.86 1630.74,237.86 1631.08,238.85 1631.41,239.85 1631.74,240.85 1632.06,241.85 1632.38,242.84 1632.68,243.84 1632.98,244.84 1633.26,245.83 1633.52,246.83 1633.78,247.83 1634.02,248.83 1634.25,249.82 1634.48,250.82 1634.69,251.82 1634.9,252.81 1635.1,253.81 1635.3,254.81 1635.48,255.81 1635.66,256.8 1635.84,257.8 1636.01,258.8 1636.17,259.8 1636.33,260.79 1636.48,261.79 1636.63,262.79 1636.78,263.78 1636.92,264.78 1637.06,265.78 1637.2,266.78 1637.33,267.77 1637.47,268.77 1637.6,269.77 1637.73,270.77 1637.86,271.76 1637.99,272.76 1638.12,273.76 1638.25,274.75 1638.38,275.75 1638.51,276.75 1638.64,277.75 1638.76,278.74 1638.89,279.74 1639.01,280.74 1639.12,281.73 1639.24,282.73 1639.35,283.73 1639.45,284.73 1639.55,285.72 1639.65,286.72 1639.74,287.72 1639.83,288.72 1639.91,289.71 1639.98,290.71 1640.05,291.71 1640.11,292.7 1640.16,293.7 1640.21,294.7 1640.25,295.7 1640.28,296.69 1640.3,297.69 1640.31,298.69 1640.31,299.68 1640.3,300.68 1640.27,301.68 1640.24,302.68 1640.19,303.67 1640.13,304.67 1640.05,305.67 1639.97,306.67 1639.87,307.66 1639.75,308.66 1639.62,309.66 1639.48,310.65 1639.33,311.65 1639.15,312.65 1638.97,313.65 1638.78,314.64 1638.59,315.64 1638.41,316.64 1638.22,317.64 1638.03,318.63 1637.84,319.63 1637.65,320.63 1637.47,321.62 1637.28,322.62 1637.09,323.62 1636.9,324.62 1636.71,325.61 1636.52,326.61 1636.33,327.61 1636.13,328.6 1635.94,329.6 1635.75,330.6 1635.56,331.6 1635.37,332.59 1635.17,333.59 1634.98,334.59 1634.78,335.59 1634.59,336.58 1634.4,337.58 1634.2,338.58 1634.01,339.57 1633.82,340.57 1633.62,341.57 1633.43,342.57 1633.24,343.56 1633.04,344.56 1632.85,345.56 1632.66,346.56 1632.46,347.55 1632.27,348.55 1632.08,349.55 1631.88,350.54 1631.69,351.54 1631.5,352.54 1631.3,353.54 1631.11,354.53 1630.91,355.53 1630.72,356.53 1630.53,357.52 1630.33,358.52 1630.14,359.52 1629.94,360.52 1629.75,361.51 1629.55,362.51 1629.36,363.51 1629.16,364.51 1628.97,365.5 1628.77,366.5 1563.17,366.5 1562.97,365.5 1562.78,364.51 1562.58,363.51 1562.39,362.51 1562.19,361.51 1562,360.52 1561.8,359.52 1561.61,358.52 1561.41,357.52 1561.22,356.53 1561.03,355.53 1560.83,354.53 1560.64,353.54 1560.44,352.54 1560.25,351.54 1560.06,350.54 1559.86,349.55 1559.67,348.55 1559.48,347.55 1559.28,346.56 1559.09,345.56 1558.9,344.56 1558.7,343.56 1558.51,342.57 1558.32,341.57 1558.12,340.57 1557.93,339.57 1557.74,338.58 1557.54,337.58 1557.35,336.58 1557.16,335.59 1556.96,334.59 1556.77,333.59 1556.57,332.59 1556.38,331.6 1556.19,330.6 1556,329.6 1555.81,328.6 1555.61,327.61 1555.42,326.61 1555.23,325.61 1555.04,324.62 1554.85,323.62 1554.66,322.62 1554.47,321.62 1554.29,320.63 1554.1,319.63 1553.91,318.63 1553.72,317.64 1553.53,316.64 1553.35,315.64 1553.16,314.64 1552.97,313.65 1552.79,312.65 1552.61,311.65 1552.46,310.65 1552.32,309.66 1552.19,308.66 1552.07,307.66 1551.97,306.67 1551.89,305.67 1551.81,304.67 1551.75,303.67 1551.7,302.68 1551.67,301.68 1551.64,300.68 1551.63,299.68 1551.63,298.69 1551.64,297.69 1551.66,296.69 1551.69,295.7 1551.73,294.7 1551.78,293.7 1551.83,292.7 1551.89,291.71 1551.96,290.71 1552.03,289.71 1552.11,288.72 1552.2,287.72 1552.29,286.72 1552.39,285.72 1552.49,284.73 1552.59,283.73 1552.7,282.73 1552.82,281.73 1552.93,280.74 1553.05,279.74 1553.18,278.74 1553.3,277.75 1553.43,276.75 1553.56,275.75 1553.69,274.75 1553.82,273.76 1553.95,272.76 1554.08,271.76 1554.21,270.77 1554.34,269.77 1554.47,268.77 1554.61,267.77 1554.74,266.78 1554.88,265.78 1555.02,264.78 1555.16,263.78 1555.31,262.79 1555.46,261.79 1555.61,260.79 1555.77,259.8 1555.93,258.8 1556.1,257.8 1556.28,256.8 1556.46,255.81 1556.64,254.81 1556.84,253.81 1557.04,252.81 1557.25,251.82 1557.46,250.82 1557.69,249.82 1557.92,248.83 1558.16,247.83 1558.42,246.83 1558.68,245.83 1558.96,244.84 1559.26,243.84 1559.56,242.84 1559.88,241.85 1560.2,240.85 1560.53,239.85 1560.86,238.85 1561.2,237.86 1561.54,236.86 1561.88,235.86 1562.22,234.86 1562.57,233.87 1562.9,232.87 1563.24,231.87 1563.56,230.88 1563.89,229.88 1564.2,228.88 1564.5,227.88 1564.79,226.89 1565.07,225.89 1565.35,224.89 1565.62,223.89 1565.89,222.9 1566.16,221.9 1566.43,220.9 1566.7,219.91 1566.97,218.91 1567.23,217.91 1567.5,216.91 1567.76,215.92 1568.03,214.92 1568.29,213.92 1568.55,212.93 1568.81,211.93 1569.07,210.93 1569.33,209.93 1569.59,208.94 1569.84,207.94 1570.1,206.94 1570.35,205.94 1570.6,204.95 1570.85,203.95 1571.1,202.95 1571.35,201.96 1571.59,200.96 1571.83,199.96 1572.08,198.96 1572.32,197.97 1572.55,196.97 1572.79,195.97 1573.03,194.97 1573.26,193.98 1573.49,192.98 1573.73,191.98 1573.96,190.99 1574.18,189.99 1574.41,188.99 1574.63,187.99 1574.86,187 1575.08,186 1575.3,185 1575.51,184.01 1575.73,183.01 1575.94,182.01 1576.15,181.01 1576.36,180.02 1576.57,179.02 1576.77,178.02 1576.98,177.02 1577.18,176.03 1577.37,175.03 1577.57,174.03 1577.76,173.04 1577.96,172.04 1578.15,171.04 1578.33,170.04 1578.52,169.05 1578.7,168.05 1578.88,167.05 1579.05,166.05 1579.23,165.06 1579.39,164.06 1579.56,163.06 1579.72,162.07 1579.87,161.07 1580.02,160.07 1580.17,159.07 1580.32,158.08 1580.46,157.08 1580.59,156.08 1580.73,155.09 1580.86,154.09 1580.98,153.09 1581.11,152.09 1581.23,151.1 1581.35,150.1 1581.46,149.1 1581.57,148.1 1581.68,147.11 1581.78,146.11 1581.89,145.11 1581.99,144.12 1582.08,143.12 1582.18,142.12 1582.27,141.12 1582.36,140.13 1582.45,139.13 1582.53,138.13 1582.62,137.13 1582.7,136.14 1582.78,135.14 1582.86,134.14 1582.94,133.15 1583.02,132.15 1583.09,131.15 1583.17,130.15 1583.24,129.16 1583.31,128.16 1583.38,127.16 1583.45,126.17 1583.52,125.17 1583.58,124.17 1583.64,123.17 1583.7,122.18 1583.75,121.18 1583.8,120.18 1583.85,119.18 1583.9,118.19 1583.94,117.19 1583.98,116.19 1584.02,115.2 1584.05,114.2 1584.08,113.2 1584.11,112.2 1584.13,111.21 1584.15,110.21 1584.16,109.21 1584.17,108.22 1584.18,107.22 1584.19,106.22 1584.19,105.22 1584.2,104.23 1584.2,103.23 1584.21,102.23 1584.21,101.23 1584.22,100.24 1584.22,99.24 1584.22,98.24 1584.22,97.25 1584.22,96.25 1584.22,95.25 1584.22,94.25 1584.22,93.26 1584.22,92.26 1584.22,91.26 1584.21,90.26 1584.21,89.27 1584.21,88.27 1584.2,87.27 1584.19,86.28 1584.19,85.28 1584.18,84.28 1584.17,83.28 1584.16,82.29 1584.15,81.29 1584.14,80.29 1584.13,79.3 1584.12,78.3 1584.11,77.3 1584.09,76.3 1584.08,75.31 1584.06,74.31 1584.05,73.31 1584.03,72.31 1584.01,71.32 1583.99,70.32 1583.97,69.32 1583.95,68.33 1583.93,67.33 1583.91,66.33 1583.89,65.33 1583.87,64.34 1583.85,63.34 1583.83,62.34 1583.81,61.34 1583.79,60.35 1583.77,59.35 1583.74,58.35 1583.72,57.36 1583.7,56.36 1583.67,55.36 1583.65,54.36 1583.63,53.37 1583.6,52.37 1583.57,51.37 1583.55,50.38 1583.52,49.38 1583.49,48.38 1583.46,47.38 1583.43,46.39 1583.4,45.39 1583.37,44.39 1583.34,43.39 1583.3,42.4 1583.27,41.4" fill="#ddd09e" stroke="#fff" stroke-width="2.2" stroke-linejoin="round"/>
<polygon points="1595.97,193.6 1619.97,199.4 1620.11,199.96 1620.35,200.96 1620.59,201.96 1620.84,202.95 1621.09,203.95 1621.34,204.95 1621.59,205.94 1621.84,206.94 1622.1,207.94 1622.35,208.94 1622.61,209.93 1622.87,210.93 1623.13,211.93 1623.39,212.93 1623.65,213.92 1623.91,214.92 1624.18,215.92 1624.44,216.91 1624.71,217.91 1624.97,218.91 1625.24,219.91 1625.51,220.9 1625.78,221.9 1626.05,222.9 1626.32,223.89 1626.59,224.89 1626.87,225.89 1627.15,226.89 1627.44,227.88 1627.74,228.88 1628.05,229.88 1628.38,230.88 1628.7,231.87 1629.04,232.87 1629.37,233.87 1629.72,234.86 1630.06,235.86 1630.4,236.86 1630.74,237.86 1631.08,238.85 1631.41,239.85 1631.74,240.85 1632.06,241.85 1632.38,242.84 1632.68,243.84 1632.98,244.84 1633.26,245.83 1633.52,246.83 1633.78,247.83 1634.02,248.83 1634.25,249.82 1634.48,250.82 1634.69,251.82 1634.9,252.81 1635.1,253.81 1635.3,254.81 1635.48,255.81 1635.66,256.8 1635.84,257.8 1636.01,258.8 1636.17,259.8 1636.33,260.79 1636.48,261.79 1636.63,262.79 1636.78,263.78 1636.92,264.78 1637.06,265.78 1637.2,266.78 1637.33,267.77 1637.47,268.77 1637.6,269.77 1637.73,270.77 1637.86,271.76 1637.99,272.76 1638.12,273.76 1638.25,274.75 1638.38,275.75 1638.51,276.75 1638.64,277.75 1638.76,278.74 1638.89,279.74 1639.01,280.74 1639.12,281.73 1639.24,282.73 1639.35,283.73 1639.45,284.73 1639.55,285.72 1639.65,286.72 1639.74,287.72 1639.83,288.72 1639.91,289.71 1639.98,290.71 1640.05,291.71 1640.11,292.7 1640.16,293.7 1640.21,294.7 1640.25,295.7 1640.28,296.69 1640.3,297.69 1640.31,298.69 1640.31,299.68 1640.3,300.68 1640.27,301.68 1640.24,302.68 1640.19,303.67 1640.13,304.67 1640.05,305.67 1639.97,306.67 1639.87,307.66 1639.75,308.66 1639.62,309.66 1639.48,310.65 1639.33,311.65 1639.15,312.65 1639.09,313 1595.97,318.9 1552.85,313 1552.79,312.65 1552.61,311.65 1552.46,310.65 1552.32,309.66 1552.19,308.66 1552.07,307.66 1551.97,306.67 1551.89,305.67 1551.81,304.67 1551.75,303.67 1551.7,302.68 1551.67,301.68 1551.64,300.68 1551.63,299.68 1551.63,298.69 1551.64,297.69 1551.66,296.69 1551.69,295.7 1551.73,294.7 1551.78,293.7 1551.83,292.7 1551.89,291.71 1551.96,290.71 1552.03,289.71 1552.11,288.72 1552.2,287.72 1552.29,286.72 1552.39,285.72 1552.49,284.73 1552.59,283.73 1552.7,282.73 1552.82,281.73 1552.93,280.74 1553.05,279.74 1553.18,278.74 1553.3,277.75 1553.43,276.75 1553.56,275.75 1553.69,274.75 1553.82,273.76 1553.95,272.76 1554.08,271.76 1554.21,270.77 1554.34,269.77 1554.47,268.77 1554.61,267.77 1554.74,266.78 1554.88,265.78 1555.02,264.78 1555.16,263.78 1555.31,262.79 1555.46,261.79 1555.61,260.79 1555.77,259.8 1555.93,258.8 1556.1,257.8 1556.28,256.8 1556.46,255.81 1556.64,254.81 1556.84,253.81 1557.04,252.81 1557.25,251.82 1557.46,250.82 1557.69,249.82 1557.92,248.83 1558.16,247.83 1558.42,246.83 1558.68,245.83 1558.96,244.84 1559.26,243.84 1559.56,242.84 1559.88,241.85 1560.2,240.85 1560.53,239.85 1560.86,238.85 1561.2,237.86 1561.54,236.86 1561.88,235.86 1562.22,234.86 1562.57,233.87 1562.9,232.87 1563.24,231.87 1563.56,230.88 1563.89,229.88 1564.2,228.88 1564.5,227.88 1564.79,226.89 1565.07,225.89 1565.35,224.89 1565.62,223.89 1565.89,222.9 1566.16,221.9 1566.43,220.9 1566.7,219.91 1566.97,218.91 1567.23,217.91 1567.5,216.91 1567.76,215.92 1568.03,214.92 1568.29,213.92 1568.55,212.93 1568.81,211.93 1569.07,210.93 1569.33,209.93 1569.59,208.94 1569.84,207.94 1570.1,206.94 1570.35,205.94 1570.6,204.95 1570.85,203.95 1571.1,202.95 1571.35,201.96 1571.59,200.96 1571.83,199.96 1571.97,199.4" fill="#d3b33a"/>
<polyline points="1571.97,199.4 1595.97,193.6 1619.97,199.4" fill="none" stroke="#fff" stroke-width="2"/>
<polyline points="1552.85,313 1595.97,318.9 1639.09,313" fill="none" stroke="#fff" stroke-width="2"/>
<line x1="1558.17" y1="247.8" x2="1633.77" y2="247.8" stroke="#cca300" stroke-width="4"/>
<line x1="180.6" y1="340.4" x2="1670.3" y2="340.4" stroke="#000" stroke-opacity="0.42" stroke-width="1.3" stroke-dasharray="3 7" stroke-dashoffset="0.2"/>
<line x1="254.97" y1="229.9" x2="254.97" y2="308.6" stroke="#c9c9cb" stroke-width="2"/>
<circle cx="254.97" cy="282.7" r="6.6" fill="#fff" stroke="#c9c9cb" stroke-width="3.0"/>
<line x1="403.97" y1="259.4" x2="403.97" y2="311.7" stroke="#c9c9cb" stroke-width="2"/>
<circle cx="403.97" cy="297" r="6.6" fill="#fff" stroke="#c9c9cb" stroke-width="3.0"/>
<line x1="552.97" y1="251.3" x2="552.97" y2="429.7" stroke="#c9c9cb" stroke-width="2"/>
<circle cx="552.97" cy="351" r="6.6" fill="#fff" stroke="#c9c9cb" stroke-width="3.0"/>
<line x1="701.97" y1="290.7" x2="701.97" y2="421.3" stroke="#c9c9cb" stroke-width="2"/>
<circle cx="701.97" cy="371.8" r="6.6" fill="#fff" stroke="#c9c9cb" stroke-width="3.0"/>
<line x1="850.97" y1="238" x2="850.97" y2="408.4" stroke="#c9c9cb" stroke-width="2"/>
<circle cx="850.97" cy="370.6" r="6.6" fill="#fff" stroke="#c9c9cb" stroke-width="3.0"/>
<line x1="999.97" y1="309.2" x2="999.97" y2="442" stroke="#c9c9cb" stroke-width="2"/>
<circle cx="999.97" cy="399.7" r="6.6" fill="#fff" stroke="#c9c9cb" stroke-width="3.0"/>
<line x1="1148.97" y1="243.6" x2="1148.97" y2="350.6" stroke="#c9c9cb" stroke-width="2"/>
<circle cx="1148.97" cy="279.9" r="6.6" fill="#fff" stroke="#c9c9cb" stroke-width="3.0"/>
<line x1="1297.97" y1="204.1" x2="1297.97" y2="353.6" stroke="#c9c9cb" stroke-width="2"/>
<circle cx="1297.97" cy="298.5" r="6.6" fill="#fff" stroke="#c9c9cb" stroke-width="3.0"/>
<line x1="1446.97" y1="154.4" x2="1446.97" y2="413.5" stroke="#c9c9cb" stroke-width="2"/>
<circle cx="1446.97" cy="301.9" r="6.6" fill="#fff" stroke="#c9c9cb" stroke-width="3.0"/>
<line x1="1595.97" y1="41.4" x2="1595.97" y2="366.5" stroke="#c9c9cb" stroke-width="2"/>
<circle cx="1595.97" cy="284.1" r="6.6" fill="#fff" stroke="#c9c9cb" stroke-width="3.0"/>
<line x1="478.47" y1="25.2" x2="478.47" y2="497.8" stroke="#000" stroke-width="1.5"/>
<line x1="1074.47" y1="25.2" x2="1074.47" y2="497.8" stroke="#000" stroke-width="1.5"/>
<line x1="254.97" y1="497.8" x2="254.97" y2="482.3" stroke="#000" stroke-width="1.6"/>
<line x1="254.97" y1="25.2" x2="254.97" y2="40.7" stroke="#000" stroke-width="1.6"/>
<line x1="403.97" y1="497.8" x2="403.97" y2="482.3" stroke="#000" stroke-width="1.6"/>
<line x1="403.97" y1="25.2" x2="403.97" y2="40.7" stroke="#000" stroke-width="1.6"/>
<line x1="552.97" y1="497.8" x2="552.97" y2="482.3" stroke="#000" stroke-width="1.6"/>
<line x1="552.97" y1="25.2" x2="552.97" y2="40.7" stroke="#000" stroke-width="1.6"/>
<line x1="701.97" y1="497.8" x2="701.97" y2="482.3" stroke="#000" stroke-width="1.6"/>
<line x1="701.97" y1="25.2" x2="701.97" y2="40.7" stroke="#000" stroke-width="1.6"/>
<line x1="850.97" y1="497.8" x2="850.97" y2="482.3" stroke="#000" stroke-width="1.6"/>
<line x1="850.97" y1="25.2" x2="850.97" y2="40.7" stroke="#000" stroke-width="1.6"/>
<line x1="999.97" y1="497.8" x2="999.97" y2="482.3" stroke="#000" stroke-width="1.6"/>
<line x1="999.97" y1="25.2" x2="999.97" y2="40.7" stroke="#000" stroke-width="1.6"/>
<line x1="1148.97" y1="497.8" x2="1148.97" y2="482.3" stroke="#000" stroke-width="1.6"/>
<line x1="1148.97" y1="25.2" x2="1148.97" y2="40.7" stroke="#000" stroke-width="1.6"/>
<line x1="1297.97" y1="497.8" x2="1297.97" y2="482.3" stroke="#000" stroke-width="1.6"/>
<line x1="1297.97" y1="25.2" x2="1297.97" y2="40.7" stroke="#000" stroke-width="1.6"/>
<line x1="1446.97" y1="497.8" x2="1446.97" y2="482.3" stroke="#000" stroke-width="1.6"/>
<line x1="1446.97" y1="25.2" x2="1446.97" y2="40.7" stroke="#000" stroke-width="1.6"/>
<line x1="1595.97" y1="497.8" x2="1595.97" y2="482.3" stroke="#000" stroke-width="1.6"/>
<line x1="1595.97" y1="25.2" x2="1595.97" y2="40.7" stroke="#000" stroke-width="1.6"/>
<line x1="180.6" y1="497.6" x2="196.1" y2="497.6" stroke="#000" stroke-width="1.6"/>
<line x1="1670.3" y1="497.6" x2="1654.8" y2="497.6" stroke="#000" stroke-width="1.6"/>
<line x1="180.6" y1="340.3" x2="196.1" y2="340.3" stroke="#000" stroke-width="1.6"/>
<line x1="1670.3" y1="340.3" x2="1654.8" y2="340.3" stroke="#000" stroke-width="1.6"/>
<line x1="180.6" y1="183" x2="196.1" y2="183" stroke="#000" stroke-width="1.6"/>
<line x1="1670.3" y1="183" x2="1654.8" y2="183" stroke="#000" stroke-width="1.6"/>
<line x1="180.6" y1="25.7" x2="196.1" y2="25.7" stroke="#000" stroke-width="1.6"/>
<line x1="1670.3" y1="25.7" x2="1654.8" y2="25.7" stroke="#000" stroke-width="1.6"/>
<rect x="180.6" y="25.2" width="1489.7" height="472.6" fill="none" stroke="#000" stroke-width="2"/>
<text x="122" y="508.9" font-size="29.3">-0.6</text>
<text x="156.05" y="351.6" font-size="29.3">0</text>
<text x="131.76" y="194.3" font-size="29.3">0.6</text>
<text x="131.94" y="37" font-size="29.3">1.2</text>
<text x="191.71" y="533.5" font-size="29.3">Observed</text>
<text x="339.1" y="533.5" font-size="29.3">Simulated</text>
<text x="501.47" y="533.5" font-size="29.3">1-2.6 (I)</text>
<text x="650.85" y="533.5" font-size="29.3">2-4.5 (I)</text>
<text x="800.03" y="533.5" font-size="29.3">3-7.0 (I)</text>
<text x="949" y="533.5" font-size="29.3">5-8.5 (I)</text>
<text x="1093.4" y="533.5" font-size="29.3">1-2.6 (II)</text>
<text x="1242.78" y="533.5" font-size="29.3">2-4.5 (II)</text>
<text x="1391.96" y="533.5" font-size="29.3">3-7.0 (II)</text>
<text x="1540.93" y="533.5" font-size="29.3">5-8.5 (II)</text>
<text x="255.77" y="90.9" font-size="29.3">1983-2010</text>
<text x="709.53" y="90.9" font-size="29.3">2011-2030</text>
<text x="1309.53" y="90.9" font-size="29.3">2031-2100</text>
<text transform="translate(61.3,261.9) rotate(-90)" font-size="32.2" text-anchor="middle">Wind induced GPP trend</text>
<text transform="translate(111.1,0) rotate(-90)" x="-357" y="-0" font-size="32.2">(g C m</text>
<text transform="translate(111.1,0) rotate(-90)" x="-262.81" y="-15.3" font-size="25">-2</text>
<text transform="translate(111.1,0) rotate(-90)" x="-228.58" y="-0" font-size="32.2">yr</text>
<text transform="translate(111.1,0) rotate(-90)" x="-200.11" y="-15.3" font-size="25">-2</text>
<text transform="translate(111.1,0) rotate(-90)" x="-174.39" y="-0" font-size="32.2">)</text>
<text x="62.22" y="33.3" font-size="42" font-weight="bold">a</text>
<rect x="180.5" y="627.7" width="149.57" height="84.91" fill="#b3b3b3"/>
<rect x="329.47" y="627.7" width="149.57" height="84.91" fill="#b3b3b3"/>
<rect x="478.44" y="627.7" width="149.57" height="84.91" fill="#b3b3b3"/>
<rect x="627.41" y="627.7" width="149.57" height="84.91" fill="#b3b3b3"/>
<rect x="776.38" y="627.7" width="149.57" height="84.91" fill="#b3b3b3"/>
<rect x="925.35" y="627.7" width="149.57" height="84.91" fill="#b3b3b3"/>
<rect x="1074.32" y="627.7" width="149.57" height="84.91" fill="#b3b3b3"/>
<rect x="1223.29" y="627.7" width="149.57" height="84.91" fill="#b3b3b3"/>
<rect x="1372.26" y="627.7" width="149.57" height="84.91" fill="#b3b3b3"/>
<rect x="1521.23" y="627.7" width="149.57" height="84.91" fill="#b3b3b3"/>
<rect x="180.5" y="712.01" width="149.57" height="84.91" fill="#ffb878"/>
<rect x="329.47" y="712.01" width="149.57" height="84.91" fill="#ffc691"/>
<rect x="478.44" y="712.01" width="149.57" height="84.91" fill="#ffffff"/>
<rect x="627.41" y="712.01" width="149.57" height="84.91" fill="#ffffff"/>
<rect x="776.38" y="712.01" width="149.57" height="84.91" fill="#ffffff"/>
<rect x="925.35" y="712.01" width="149.57" height="84.91" fill="#e4e6f2"/>
<rect x="1074.32" y="712.01" width="149.57" height="84.91" fill="#ff8000"/>
<rect x="1223.29" y="712.01" width="149.57" height="84.91" fill="#ffbb7e"/>
<rect x="1372.26" y="712.01" width="149.57" height="84.91" fill="#ffd9b5"/>
<rect x="1521.23" y="712.01" width="149.57" height="84.91" fill="#ffc691"/>
<rect x="180.5" y="796.33" width="149.57" height="84.91" fill="#ffcb9b"/>
<rect x="329.47" y="796.33" width="149.57" height="84.91" fill="#ffe6cf"/>
<rect x="478.44" y="796.33" width="149.57" height="84.91" fill="#ffa348"/>
<rect x="627.41" y="796.33" width="149.57" height="84.91" fill="#ffc38b"/>
<rect x="776.38" y="796.33" width="149.57" height="84.91" fill="#ff8000"/>
<rect x="925.35" y="796.33" width="149.57" height="84.91" fill="#b3b3b3"/>
<rect x="1074.32" y="796.33" width="149.57" height="84.91" fill="#ffdebf"/>
<rect x="1223.29" y="796.33" width="149.57" height="84.91" fill="#ffdebf"/>
<rect x="1372.26" y="796.33" width="149.57" height="84.91" fill="#ffa041"/>
<rect x="1521.23" y="796.33" width="149.57" height="84.91" fill="#ff8000"/>
<rect x="180.5" y="880.64" width="149.57" height="84.91" fill="#ffd0a4"/>
<rect x="329.47" y="880.64" width="149.57" height="84.91" fill="#fff0e2"/>
<rect x="478.44" y="880.64" width="149.57" height="84.91" fill="#f8f9fb"/>
<rect x="627.41" y="880.64" width="149.57" height="84.91" fill="#f6f7fa"/>
<rect x="776.38" y="880.64" width="149.57" height="84.91" fill="#ffffff"/>
<rect x="925.35" y="880.64" width="149.57" height="84.91" fill="#fff5eb"/>
<rect x="1074.32" y="880.64" width="149.57" height="84.91" fill="#ffffff"/>
<rect x="1223.29" y="880.64" width="149.57" height="84.91" fill="#ffffff"/>
<rect x="1372.26" y="880.64" width="149.57" height="84.91" fill="#ffffff"/>
<rect x="1521.23" y="880.64" width="149.57" height="84.91" fill="#ffffff"/>
<rect x="180.5" y="964.96" width="149.57" height="84.91" fill="#ffeddc"/>
<rect x="329.47" y="964.96" width="149.57" height="84.91" fill="#ffdebf"/>
<rect x="478.44" y="964.96" width="149.57" height="84.91" fill="#ffc997"/>
<rect x="627.41" y="964.96" width="149.57" height="84.91" fill="#ffd2a8"/>
<rect x="776.38" y="964.96" width="149.57" height="84.91" fill="#ffe5cd"/>
<rect x="925.35" y="964.96" width="149.57" height="84.91" fill="#ffb878"/>
<rect x="1074.32" y="964.96" width="149.57" height="84.91" fill="#ffe5cd"/>
<rect x="1223.29" y="964.96" width="149.57" height="84.91" fill="#ffdebf"/>
<rect x="1372.26" y="964.96" width="149.57" height="84.91" fill="#ffe6cf"/>
<rect x="1521.23" y="964.96" width="149.57" height="84.91" fill="#ffe4cb"/>
<rect x="180.5" y="1049.27" width="149.57" height="84.91" fill="#ffc28a"/>
<rect x="329.47" y="1049.27" width="149.57" height="84.91" fill="#ffffff"/>
<rect x="478.44" y="1049.27" width="149.57" height="84.91" fill="#ff8000"/>
<rect x="627.41" y="1049.27" width="149.57" height="84.91" fill="#ffcea0"/>
<rect x="776.38" y="1049.27" width="149.57" height="84.91" fill="#ffffff"/>
<rect x="925.35" y="1049.27" width="149.57" height="84.91" fill="#ff8000"/>
<rect x="1074.32" y="1049.27" width="149.57" height="84.91" fill="#ffb877"/>
<rect x="1223.29" y="1049.27" width="149.57" height="84.91" fill="#ffc087"/>
<rect x="1372.26" y="1049.27" width="149.57" height="84.91" fill="#ffe2c7"/>
<rect x="1521.23" y="1049.27" width="149.57" height="84.91" fill="#ffe1c5"/>
<rect x="180.5" y="1133.59" width="149.57" height="84.91" fill="#fff5ed"/>
<rect x="329.47" y="1133.59" width="149.57" height="84.91" fill="#c0c7e2"/>
<rect x="478.44" y="1133.59" width="149.57" height="84.91" fill="#ccd1e6"/>
<rect x="627.41" y="1133.59" width="149.57" height="84.91" fill="#e6e8f3"/>
<rect x="776.38" y="1133.59" width="149.57" height="84.91" fill="#d0d4e7"/>
<rect x="925.35" y="1133.59" width="149.57" height="84.91" fill="#7f91c2"/>
<rect x="1074.32" y="1133.59" width="149.57" height="84.91" fill="#f0f1f6"/>
<rect x="1223.29" y="1133.59" width="149.57" height="84.91" fill="#aab5d8"/>
<rect x="1372.26" y="1133.59" width="149.57" height="84.91" fill="#95a3cf"/>
<rect x="1521.23" y="1133.59" width="149.57" height="84.91" fill="#99a7d1"/>
<text x="226.15" y="681.36" font-size="29.3">74.4</text>
<text x="366.87" y="681.36" font-size="29.3">102.9</text>
<text x="524.42" y="681.36" font-size="29.3">86.6</text>
<text x="673.12" y="681.36" font-size="29.3">97.4</text>
<text x="822.24" y="681.36" font-size="29.3">98.0</text>
<text x="971.29" y="681.36" font-size="29.3">78.1</text>
<text x="1119.97" y="681.36" font-size="29.3">74.4</text>
<text x="1260.64" y="681.36" font-size="29.3">101.6</text>
<text x="1409.54" y="681.36" font-size="29.3">106.0</text>
<text x="1567.15" y="681.36" font-size="29.3">94.8</text>
<text x="234.51" y="765.67" font-size="29.3">7.8</text>
<text x="383.42" y="765.67" font-size="29.3">6.0</text>
<text x="527.67" y="765.67" font-size="29.3">-2.3</text>
<text x="676.43" y="765.67" font-size="29.3">-2.4</text>
<text x="825.61" y="765.67" font-size="29.3">-1.3</text>
<text x="974.58" y="765.67" font-size="29.3">-7.6</text>
<text x="1119.91" y="765.67" font-size="29.3">17.7</text>
<text x="1277.09" y="765.67" font-size="29.3">7.4</text>
<text x="1426.47" y="765.67" font-size="29.3">3.6</text>
<text x="1575.18" y="765.67" font-size="29.3">6.0</text>
<text x="234.68" y="849.99" font-size="29.3">5.3</text>
<text x="383.5" y="849.99" font-size="29.3">2.3</text>
<text x="523.99" y="849.99" font-size="29.3">10.9</text>
<text x="681.21" y="849.99" font-size="29.3">6.4</text>
<text x="821.81" y="849.99" font-size="29.3">15.0</text>
<text x="971.5" y="849.99" font-size="29.3">35.7</text>
<text x="1128.6" y="849.99" font-size="29.3">3.1</text>
<text x="1277.57" y="849.99" font-size="29.3">3.1</text>
<text x="1417.76" y="849.99" font-size="29.3">11.3</text>
<text x="1566.82" y="849.99" font-size="29.3">18.2</text>
<text x="234.93" y="934.3" font-size="29.3">4.6</text>
<text x="383.12" y="934.3" font-size="29.3">1.3</text>
<text x="527.75" y="934.3" font-size="29.3">-3.1</text>
<text x="676.43" y="934.3" font-size="29.3">-3.4</text>
<text x="825.61" y="934.3" font-size="29.3">-0.6</text>
<text x="974.66" y="934.3" font-size="29.3">-0.1</text>
<text x="1123.55" y="934.3" font-size="29.3">-0.8</text>
<text x="1272.31" y="934.3" font-size="29.3">-2.4</text>
<text x="1421.47" y="934.3" font-size="29.3">-1.5</text>
<text x="1570.46" y="934.3" font-size="29.3">-0.8</text>
<text x="234.24" y="1018.61" font-size="29.3">1.7</text>
<text x="383.75" y="1018.61" font-size="29.3">3.1</text>
<text x="532.62" y="1018.61" font-size="29.3">5.6</text>
<text x="681.84" y="1018.61" font-size="29.3">4.3</text>
<text x="830.19" y="1018.61" font-size="29.3">2.4</text>
<text x="979.36" y="1018.61" font-size="29.3">7.8</text>
<text x="1128.13" y="1018.61" font-size="29.3">2.4</text>
<text x="1277.57" y="1018.61" font-size="29.3">3.1</text>
<text x="1426.29" y="1018.61" font-size="29.3">2.3</text>
<text x="1575.23" y="1018.61" font-size="29.3">2.5</text>
<text x="234.49" y="1102.93" font-size="29.3">6.5</text>
<text x="378.75" y="1102.93" font-size="29.3">-0.9</text>
<text x="524.03" y="1102.93" font-size="29.3">15.2</text>
<text x="681.89" y="1102.93" font-size="29.3">4.9</text>
<text x="825.54" y="1102.93" font-size="29.3">-2.0</text>
<text x="970.92" y="1102.93" font-size="29.3">15.1</text>
<text x="1128.38" y="1102.93" font-size="29.3">7.9</text>
<text x="1277.4" y="1102.93" font-size="29.3">6.7</text>
<text x="1426.38" y="1102.93" font-size="29.3">2.7</text>
<text x="1575.25" y="1102.93" font-size="29.3">2.8</text>
<text x="229.83" y="1187.24" font-size="29.3">-0.2</text>
<text x="370.65" y="1187.24" font-size="29.3">-14.7</text>
<text x="519.45" y="1187.24" font-size="29.3">-13.0</text>
<text x="676.74" y="1187.24" font-size="29.3">-7.2</text>
<text x="817.47" y="1187.24" font-size="29.3">-11.6</text>
<text x="966.36" y="1187.24" font-size="29.3">-29.0</text>
<text x="1123.55" y="1187.24" font-size="29.3">-4.8</text>
<text x="1264.38" y="1187.24" font-size="29.3">-19.3</text>
<text x="1413.13" y="1187.24" font-size="29.3">-24.4</text>
<text x="1562.29" y="1187.24" font-size="29.3">-23.5</text>
<rect x="180.3" y="628.0" width="1489.9" height="589.9" fill="none" stroke="#1c1c1c" stroke-width="1.8"/>
<text x="114.91" y="675.5" font-size="29.3" fill="#262626">CO</text>
<text x="159.86" y="687.6" font-size="22.6" fill="#262626">2</text>
<text x="108.53" y="765.17" font-size="29.3" fill="#262626">Wind</text>
<text x="6.97" y="849.49" font-size="29.3" fill="#262626">Temperature</text>
<text x="57.46" y="933.8" font-size="29.3" fill="#262626">Pressure</text>
<text x="14.07" y="1018.11" font-size="29.3" fill="#262626">Precipitation</text>
<text x="51.51" y="1102.43" font-size="29.3" fill="#262626">Radiation</text>
<text x="114.56" y="1186.74" font-size="29.3" fill="#262626">VPD</text>
<text x="191.72" y="1253.5" font-size="29.3" fill="#262626">Observed</text>
<text x="339.09" y="1253.5" font-size="29.3" fill="#262626">Simulated</text>
<text x="501.43" y="1253.5" font-size="29.3" fill="#262626">1-2.6 (I)</text>
<text x="650.78" y="1253.5" font-size="29.3" fill="#262626">2-4.5 (I)</text>
<text x="799.93" y="1253.5" font-size="29.3" fill="#262626">3-7.0 (I)</text>
<text x="948.87" y="1253.5" font-size="29.3" fill="#262626">5-8.5 (I)</text>
<text x="1093.24" y="1253.5" font-size="29.3" fill="#262626">1-2.6 (II)</text>
<text x="1242.59" y="1253.5" font-size="29.3" fill="#262626">2-4.5 (II)</text>
<text x="1391.74" y="1253.5" font-size="29.3" fill="#262626">3-7.0 (II)</text>
<text x="1540.68" y="1253.5" font-size="29.3" fill="#262626">5-8.5 (II)</text>
<text x="255.77" y="610.7" font-size="29.3">1983-2010</text>
<text x="709.53" y="610.7" font-size="29.3">2011-2030</text>
<text x="1309.53" y="610.7" font-size="29.3">2031-2100</text>
<text x="62.99" y="635.5" font-size="42" font-weight="bold">b</text>
<rect x="1694.2" y="628.4" width="40" height="117" fill="#b3b3b3"/>
<rect x="1694.2" y="745.4" width="40" height="8.69" fill="#ee7c1a"/>
<rect x="1694.2" y="753.79" width="40" height="8.69" fill="#ef8428"/>
<rect x="1694.2" y="762.17" width="40" height="8.69" fill="#f08c34"/>
<rect x="1694.2" y="770.56" width="40" height="8.69" fill="#f19642"/>
<rect x="1694.2" y="778.95" width="40" height="8.69" fill="#f2a052"/>
<rect x="1694.2" y="787.33" width="40" height="8.69" fill="#f3a860"/>
<rect x="1694.2" y="795.72" width="40" height="8.69" fill="#f4b06e"/>
<rect x="1694.2" y="804.11" width="40" height="8.69" fill="#f5ba80"/>
<rect x="1694.2" y="812.49" width="40" height="8.69" fill="#f6c492"/>
<rect x="1694.2" y="820.88" width="40" height="8.69" fill="#f7cba0"/>
<rect x="1694.2" y="829.27" width="40" height="8.69" fill="#f8d3af"/>
<rect x="1694.2" y="837.65" width="40" height="8.69" fill="#f9dcbe"/>
<rect x="1694.2" y="846.04" width="40" height="8.69" fill="#fbe6d2"/>
<rect x="1694.2" y="854.43" width="40" height="8.69" fill="#fceee0"/>
<rect x="1694.2" y="862.81" width="40" height="8.69" fill="#fdf5ec"/>
<rect x="1694.2" y="871.2" width="40" height="17.4" fill="#ffffff"/>
<rect x="1694.2" y="888.3" width="40" height="8.69" fill="#f4f5f9"/>
<rect x="1694.2" y="896.69" width="40" height="8.69" fill="#eff1f6"/>
<rect x="1694.2" y="905.09" width="40" height="8.69" fill="#eaecf4"/>
<rect x="1694.2" y="913.48" width="40" height="8.69" fill="#e6e8f2"/>
<rect x="1694.2" y="921.88" width="40" height="8.69" fill="#e1e4ef"/>
<rect x="1694.2" y="930.27" width="40" height="8.69" fill="#dce0ed"/>
<rect x="1694.2" y="938.67" width="40" height="8.69" fill="#d7dbeb"/>
<rect x="1694.2" y="947.06" width="40" height="8.69" fill="#d2d7e8"/>
<rect x="1694.2" y="955.46" width="40" height="8.69" fill="#cdd2e6"/>
<rect x="1694.2" y="963.85" width="40" height="8.69" fill="#c8cee4"/>
<rect x="1694.2" y="972.25" width="40" height="8.69" fill="#c3c9e1"/>
<rect x="1694.2" y="980.64" width="40" height="8.69" fill="#bbc3de"/>
<rect x="1694.2" y="989.04" width="40" height="8.69" fill="#b4bcda"/>
<rect x="1694.2" y="997.43" width="40" height="8.69" fill="#adb6d7"/>
<rect x="1694.2" y="1005.83" width="40" height="8.69" fill="#a9b3d4"/>
<rect x="1694.2" y="1014.22" width="40" height="8.69" fill="#a5afd2"/>
<rect x="1694.2" y="1022.62" width="40" height="8.69" fill="#a1acd0"/>
<rect x="1694.2" y="1031.01" width="40" height="8.69" fill="#9da8ce"/>
<rect x="1694.2" y="1039.41" width="40" height="8.69" fill="#98a4cb"/>
<rect x="1694.2" y="1047.8" width="40" height="8.69" fill="#929ec8"/>
<rect x="1694.2" y="1056.2" width="40" height="8.69" fill="#8c98c4"/>
<rect x="1694.2" y="1064.59" width="40" height="8.69" fill="#8693c1"/>
<rect x="1694.2" y="1072.99" width="40" height="8.69" fill="#818ebe"/>
<rect x="1694.2" y="1081.38" width="40" height="8.69" fill="#7c8abc"/>
<rect x="1694.2" y="1089.78" width="40" height="8.69" fill="#7785b9"/>
<rect x="1694.2" y="1098.17" width="40" height="8.69" fill="#7281b7"/>
<rect x="1694.2" y="1106.57" width="40" height="8.69" fill="#6d7db5"/>
<rect x="1694.2" y="1114.96" width="40" height="8.69" fill="#6878b2"/>
<rect x="1694.2" y="1123.36" width="40" height="8.69" fill="#6274b0"/>
<rect x="1694.2" y="1131.75" width="40" height="8.69" fill="#5d6fad"/>
<rect x="1694.2" y="1140.15" width="40" height="8.69" fill="#586bab"/>
<rect x="1694.2" y="1148.54" width="40" height="8.69" fill="#5367a8"/>
<rect x="1694.2" y="1156.94" width="40" height="8.69" fill="#4e62a5"/>
<rect x="1694.2" y="1165.33" width="40" height="8.69" fill="#4a5ea2"/>
<rect x="1694.2" y="1173.73" width="40" height="8.69" fill="#455aa0"/>
<rect x="1694.2" y="1182.12" width="40" height="8.69" fill="#41579d"/>
<rect x="1694.2" y="1190.52" width="40" height="8.69" fill="#3d539b"/>
<rect x="1694.2" y="1198.91" width="40" height="8.69" fill="#385099"/>
<rect x="1694.2" y="1207.31" width="40" height="8.69" fill="#344d97"/>
<rect x="1694.2" y="628.4" width="40" height="587.3" fill="none" stroke="#4d4d4d" stroke-width="1.6"/>
<line x1="1730.7" y1="710.8" x2="1734.2" y2="710.8" stroke="#262626" stroke-width="1.6"/>
<line x1="1730.7" y1="794.4" x2="1734.2" y2="794.4" stroke="#262626" stroke-width="1.6"/>
<line x1="1730.7" y1="876.4" x2="1734.2" y2="876.4" stroke="#262626" stroke-width="1.6"/>
<line x1="1730.7" y1="959.3" x2="1734.2" y2="959.3" stroke="#262626" stroke-width="1.6"/>
<line x1="1730.7" y1="1041.7" x2="1734.2" y2="1041.7" stroke="#262626" stroke-width="1.6"/>
<line x1="1730.7" y1="1125" x2="1734.2" y2="1125" stroke="#262626" stroke-width="1.6"/>
<line x1="1730.7" y1="1207.4" x2="1734.2" y2="1207.4" stroke="#262626" stroke-width="1.6"/>
<text x="1743.77" y="635.4" font-size="29.3" fill="#231c1a">120</text>
<text x="1746.23" y="721.9" font-size="29.3" fill="#231c1a">40</text>
<text x="1747.27" y="760.3" font-size="29.3" fill="#231c1a">19</text>
<text x="1747.27" y="803.6" font-size="29.3" fill="#231c1a">10</text>
<text x="1754.96" y="884.2" font-size="29.3" fill="#231c1a">0</text>
<text x="1746.1" y="968.8" font-size="29.3" fill="#231c1a">-10</text>
<text x="1746.1" y="1050.4" font-size="29.3" fill="#231c1a">-20</text>
<text x="1746.1" y="1134.8" font-size="29.3" fill="#231c1a">-30</text>
<text x="1746.1" y="1220" font-size="29.3" fill="#231c1a">-40</text>
<rect x="180.6" y="1347.6" width="1489.7" height="590.2" fill="#e5e5e5"/>
<rect x="224.28" y="1635.6" width="87.6" height="120.4" fill="#f0f25e" stroke="#000" stroke-width="2"/>
<rect x="224.28" y="1634.5" width="87.6" height="1.1" fill="#4a79b2" stroke="#000" stroke-width="2"/>
<rect x="224.28" y="1616.4" width="87.6" height="18.1" fill="#8e3626" stroke="#000" stroke-width="2"/>
<rect x="224.28" y="1575.5" width="87.6" height="40.9" fill="#9b7c85" stroke="#000" stroke-width="2"/>
<rect x="224.28" y="1554.7" width="87.6" height="20.8" fill="#cca200" stroke="#000" stroke-width="2"/>
<rect x="224.28" y="1535.6" width="87.6" height="19.1" fill="#a20052" stroke="#000" stroke-width="2"/>
<rect x="224.28" y="1529.3" width="87.6" height="6.3" fill="#000000" stroke="#000" stroke-width="2"/>
<rect x="370.38" y="1658.8" width="87.6" height="97.2" fill="#f0f25e" stroke="#000" stroke-width="2"/>
<rect x="370.38" y="1612.8" width="87.6" height="46" fill="#4a79b2" stroke="#000" stroke-width="2"/>
<rect x="370.38" y="1602.9" width="87.6" height="9.9" fill="#8e3626" stroke="#000" stroke-width="2"/>
<rect x="370.38" y="1584.9" width="87.6" height="18" fill="#9b7c85" stroke="#000" stroke-width="2"/>
<rect x="370.38" y="1574.5" width="87.6" height="10.4" fill="#cca200" stroke="#000" stroke-width="2"/>
<rect x="370.38" y="1550.7" width="87.6" height="23.8" fill="#a20052" stroke="#000" stroke-width="2"/>
<rect x="370.38" y="1529.3" width="87.6" height="21.4" fill="#000000" stroke="#000" stroke-width="2"/>
<rect x="516.48" y="1695.4" width="87.6" height="60.6" fill="#f0f25e" stroke="#000" stroke-width="2"/>
<rect x="516.48" y="1667.7" width="87.6" height="27.7" fill="#4a79b2" stroke="#000" stroke-width="2"/>
<rect x="516.48" y="1629.7" width="87.6" height="38" fill="#8e3626" stroke="#000" stroke-width="2"/>
<rect x="516.48" y="1607.5" width="87.6" height="22.2" fill="#9b7c85" stroke="#000" stroke-width="2"/>
<rect x="516.48" y="1568.3" width="87.6" height="39.2" fill="#cca200" stroke="#000" stroke-width="2"/>
<rect x="516.48" y="1552.8" width="87.6" height="15.5" fill="#a20052" stroke="#000" stroke-width="2"/>
<rect x="516.48" y="1529.7" width="87.6" height="23.1" fill="#000000" stroke="#000" stroke-width="2"/>
<rect x="662.58" y="1641.3" width="87.6" height="114.7" fill="#f0f25e" stroke="#000" stroke-width="2"/>
<rect x="662.58" y="1578.9" width="87.6" height="62.4" fill="#4a79b2" stroke="#000" stroke-width="2"/>
<rect x="662.58" y="1557.4" width="87.6" height="21.5" fill="#8e3626" stroke="#000" stroke-width="2"/>
<rect x="662.58" y="1557" width="87.6" height="0.4" fill="#9b7c85" stroke="#000" stroke-width="2"/>
<rect x="662.58" y="1556.4" width="87.6" height="0.6" fill="#cca200" stroke="#000" stroke-width="2"/>
<rect x="662.58" y="1543.8" width="87.6" height="12.6" fill="#a20052" stroke="#000" stroke-width="2"/>
<rect x="662.58" y="1519.3" width="87.6" height="24.5" fill="#000000" stroke="#000" stroke-width="2"/>
<rect x="662.58" y="1756" width="87.6" height="2.6" fill="#9b7c85" stroke="#000" stroke-width="2"/>
<rect x="662.58" y="1758.6" width="87.6" height="7.5" fill="#cca200" stroke="#000" stroke-width="2"/>
<rect x="808.68" y="1611.5" width="87.6" height="144.5" fill="#f0f25e" stroke="#000" stroke-width="2"/>
<rect x="808.68" y="1533.1" width="87.6" height="78.4" fill="#4a79b2" stroke="#000" stroke-width="2"/>
<rect x="808.68" y="1516.6" width="87.6" height="16.5" fill="#8e3626" stroke="#000" stroke-width="2"/>
<rect x="808.68" y="1499.7" width="87.6" height="16.9" fill="#9b7c85" stroke="#000" stroke-width="2"/>
<rect x="808.68" y="1470.5" width="87.6" height="29.2" fill="#a20052" stroke="#000" stroke-width="2"/>
<rect x="808.68" y="1466.7" width="87.6" height="3.8" fill="#000000" stroke="#000" stroke-width="2"/>
<rect x="808.68" y="1756" width="87.6" height="62.5" fill="#cca200" stroke="#000" stroke-width="2"/>
<rect x="954.78" y="1664" width="87.6" height="92" fill="#f0f25e" stroke="#000" stroke-width="2"/>
<rect x="954.78" y="1576.9" width="87.6" height="87.1" fill="#4a79b2" stroke="#000" stroke-width="2"/>
<rect x="954.78" y="1574.9" width="87.6" height="2" fill="#8e3626" stroke="#000" stroke-width="2"/>
<rect x="954.78" y="1496.6" width="87.6" height="78.3" fill="#9b7c85" stroke="#000" stroke-width="2"/>
<rect x="954.78" y="1492.5" width="87.6" height="4.1" fill="#a20052" stroke="#000" stroke-width="2"/>
<rect x="954.78" y="1457.5" width="87.6" height="35" fill="#000000" stroke="#000" stroke-width="2"/>
<rect x="954.78" y="1756" width="87.6" height="72.1" fill="#cca200" stroke="#000" stroke-width="2"/>
<rect x="1100.88" y="1640" width="87.6" height="116" fill="#f0f25e" stroke="#000" stroke-width="2"/>
<rect x="1100.88" y="1592.1" width="87.6" height="47.9" fill="#4a79b2" stroke="#000" stroke-width="2"/>
<rect x="1100.88" y="1569.4" width="87.6" height="22.7" fill="#8e3626" stroke="#000" stroke-width="2"/>
<rect x="1100.88" y="1553.6" width="87.6" height="15.8" fill="#cca200" stroke="#000" stroke-width="2"/>
<rect x="1100.88" y="1542.2" width="87.6" height="11.4" fill="#a20052" stroke="#000" stroke-width="2"/>
<rect x="1100.88" y="1529.9" width="87.6" height="12.3" fill="#000000" stroke="#000" stroke-width="2"/>
<rect x="1246.98" y="1608.9" width="87.6" height="147.1" fill="#f0f25e" stroke="#000" stroke-width="2"/>
<rect x="1246.98" y="1551.3" width="87.6" height="57.6" fill="#4a79b2" stroke="#000" stroke-width="2"/>
<rect x="1246.98" y="1540" width="87.6" height="11.3" fill="#8e3626" stroke="#000" stroke-width="2"/>
<rect x="1246.98" y="1515.9" width="87.6" height="24.1" fill="#a20052" stroke="#000" stroke-width="2"/>
<rect x="1246.98" y="1473.6" width="87.6" height="42.3" fill="#000000" stroke="#000" stroke-width="2"/>
<rect x="1246.98" y="1756" width="87.6" height="3.9" fill="#9b7c85" stroke="#000" stroke-width="2"/>
<rect x="1246.98" y="1759.9" width="87.6" height="51.1" fill="#cca200" stroke="#000" stroke-width="2"/>
<rect x="1393.08" y="1589.7" width="87.6" height="166.3" fill="#f0f25e" stroke="#000" stroke-width="2"/>
<rect x="1393.08" y="1512.8" width="87.6" height="76.9" fill="#4a79b2" stroke="#000" stroke-width="2"/>
<rect x="1393.08" y="1477" width="87.6" height="35.8" fill="#8e3626" stroke="#000" stroke-width="2"/>
<rect x="1393.08" y="1452" width="87.6" height="25" fill="#a20052" stroke="#000" stroke-width="2"/>
<rect x="1393.08" y="1431.1" width="87.6" height="20.9" fill="#000000" stroke="#000" stroke-width="2"/>
<rect x="1393.08" y="1756" width="87.6" height="48.3" fill="#9b7c85" stroke="#000" stroke-width="2"/>
<rect x="1393.08" y="1804.3" width="87.6" height="50.5" fill="#cca200" stroke="#000" stroke-width="2"/>
<rect x="1539.18" y="1605.2" width="87.6" height="150.8" fill="#f0f25e" stroke="#000" stroke-width="2"/>
<rect x="1539.18" y="1535.9" width="87.6" height="69.3" fill="#4a79b2" stroke="#000" stroke-width="2"/>
<rect x="1539.18" y="1505.2" width="87.6" height="30.7" fill="#8e3626" stroke="#000" stroke-width="2"/>
<rect x="1539.18" y="1483.9" width="87.6" height="21.3" fill="#a20052" stroke="#000" stroke-width="2"/>
<rect x="1539.18" y="1445" width="87.6" height="38.9" fill="#000000" stroke="#000" stroke-width="2"/>
<rect x="1539.18" y="1756" width="87.6" height="40.5" fill="#9b7c85" stroke="#000" stroke-width="2"/>
<rect x="1539.18" y="1796.5" width="87.6" height="44" fill="#cca200" stroke="#000" stroke-width="2"/>
<line x1="180.6" y1="1416.12" x2="1670.3" y2="1416.12" stroke="#000" stroke-opacity="0.42" stroke-width="1.25" stroke-dasharray="3 7" stroke-dashoffset="2.7"/>
<line x1="180.6" y1="1529.55" x2="1670.3" y2="1529.55" stroke="#000" stroke-opacity="0.42" stroke-width="1.25" stroke-dasharray="3 7" stroke-dashoffset="2.7"/>
<line x1="180.6" y1="1642.98" x2="1670.3" y2="1642.98" stroke="#000" stroke-opacity="0.42" stroke-width="1.25" stroke-dasharray="3 7" stroke-dashoffset="2.7"/>
<line x1="180.6" y1="1869.83" x2="1670.3" y2="1869.83" stroke="#000" stroke-opacity="0.42" stroke-width="1.25" stroke-dasharray="3 7" stroke-dashoffset="2.7"/>
<line x1="180.6" y1="1756" x2="1670.3" y2="1756" stroke="#000" stroke-width="1.6"/>
<line x1="487.23" y1="1347.6" x2="487.23" y2="1937.8" stroke="#000" stroke-width="1.5"/>
<line x1="1071.63" y1="1347.6" x2="1071.63" y2="1937.8" stroke="#000" stroke-width="1.5"/>
<line x1="268.08" y1="1937.8" x2="268.08" y2="1922.3" stroke="#000" stroke-width="1.6"/>
<line x1="268.08" y1="1347.6" x2="268.08" y2="1363.1" stroke="#000" stroke-width="1.6"/>
<line x1="414.18" y1="1937.8" x2="414.18" y2="1922.3" stroke="#000" stroke-width="1.6"/>
<line x1="414.18" y1="1347.6" x2="414.18" y2="1363.1" stroke="#000" stroke-width="1.6"/>
<line x1="560.28" y1="1937.8" x2="560.28" y2="1922.3" stroke="#000" stroke-width="1.6"/>
<line x1="560.28" y1="1347.6" x2="560.28" y2="1363.1" stroke="#000" stroke-width="1.6"/>
<line x1="706.38" y1="1937.8" x2="706.38" y2="1922.3" stroke="#000" stroke-width="1.6"/>
<line x1="706.38" y1="1347.6" x2="706.38" y2="1363.1" stroke="#000" stroke-width="1.6"/>
<line x1="852.48" y1="1937.8" x2="852.48" y2="1922.3" stroke="#000" stroke-width="1.6"/>
<line x1="852.48" y1="1347.6" x2="852.48" y2="1363.1" stroke="#000" stroke-width="1.6"/>
<line x1="998.58" y1="1937.8" x2="998.58" y2="1922.3" stroke="#000" stroke-width="1.6"/>
<line x1="998.58" y1="1347.6" x2="998.58" y2="1363.1" stroke="#000" stroke-width="1.6"/>
<line x1="1144.68" y1="1937.8" x2="1144.68" y2="1922.3" stroke="#000" stroke-width="1.6"/>
<line x1="1144.68" y1="1347.6" x2="1144.68" y2="1363.1" stroke="#000" stroke-width="1.6"/>
<line x1="1290.78" y1="1937.8" x2="1290.78" y2="1922.3" stroke="#000" stroke-width="1.6"/>
<line x1="1290.78" y1="1347.6" x2="1290.78" y2="1363.1" stroke="#000" stroke-width="1.6"/>
<line x1="1436.88" y1="1937.8" x2="1436.88" y2="1922.3" stroke="#000" stroke-width="1.6"/>
<line x1="1436.88" y1="1347.6" x2="1436.88" y2="1363.1" stroke="#000" stroke-width="1.6"/>
<line x1="1582.98" y1="1937.8" x2="1582.98" y2="1922.3" stroke="#000" stroke-width="1.6"/>
<line x1="1582.98" y1="1347.6" x2="1582.98" y2="1363.1" stroke="#000" stroke-width="1.6"/>
<line x1="180.6" y1="1869.42" x2="196.1" y2="1869.42" stroke="#000" stroke-width="1.6"/>
<line x1="1670.3" y1="1869.42" x2="1654.8" y2="1869.42" stroke="#000" stroke-width="1.6"/>
<line x1="180.6" y1="1756" x2="196.1" y2="1756" stroke="#000" stroke-width="1.6"/>
<line x1="1670.3" y1="1756" x2="1654.8" y2="1756" stroke="#000" stroke-width="1.6"/>
<line x1="180.6" y1="1642.58" x2="196.1" y2="1642.58" stroke="#000" stroke-width="1.6"/>
<line x1="1670.3" y1="1642.58" x2="1654.8" y2="1642.58" stroke="#000" stroke-width="1.6"/>
<line x1="180.6" y1="1529.15" x2="196.1" y2="1529.15" stroke="#000" stroke-width="1.6"/>
<line x1="1670.3" y1="1529.15" x2="1654.8" y2="1529.15" stroke="#000" stroke-width="1.6"/>
<line x1="180.6" y1="1415.72" x2="196.1" y2="1415.72" stroke="#000" stroke-width="1.6"/>
<line x1="1670.3" y1="1415.72" x2="1654.8" y2="1415.72" stroke="#000" stroke-width="1.6"/>
<rect x="180.6" y="1347.6" width="1489.7" height="590.2" fill="none" stroke="#000" stroke-width="2"/>
<text x="130" y="1880.72" font-size="29.3">-50</text>
<text x="156.05" y="1767.3" font-size="29.3">0</text>
<text x="139.75" y="1653.88" font-size="29.3">50</text>
<text x="123.46" y="1540.45" font-size="29.3">100</text>
<text x="123.46" y="1427.02" font-size="29.3">150</text>
<text x="204.82" y="1973.9" font-size="29.3">Observed</text>
<text x="349.31" y="1973.9" font-size="29.3">Simulated</text>
<text x="508.78" y="1973.9" font-size="29.3">1-2.6 (I)</text>
<text x="655.26" y="1973.9" font-size="29.3">2-4.5 (I)</text>
<text x="801.54" y="1973.9" font-size="29.3">3-7.0 (I)</text>
<text x="947.61" y="1973.9" font-size="29.3">5-8.5 (I)</text>
<text x="1089.11" y="1973.9" font-size="29.3">1-2.6 (II)</text>
<text x="1235.59" y="1973.9" font-size="29.3">2-4.5 (II)</text>
<text x="1381.87" y="1973.9" font-size="29.3">3-7.0 (II)</text>
<text x="1527.94" y="1973.9" font-size="29.3">5-8.5 (II)</text>
<text x="255.77" y="1331.3" font-size="29.3">1983-2010</text>
<text x="709.03" y="1331.3" font-size="29.3">2011-2030</text>
<text x="1296.53" y="1331.3" font-size="29.3">2031-2100</text>
<text x="62.52" y="1355.1" font-size="42" font-weight="bold">c</text>
<text transform="translate(70.8,1642.85) rotate(-90)" font-size="32.2" text-anchor="middle">Contributions of plant function types</text>
<text transform="translate(111.5,1642.85) rotate(-90)" font-size="32.2" text-anchor="middle">(%)</text>
<rect x="283" y="1880" width="41.4" height="26.4" fill="#f0f25e" stroke="#000" stroke-width="1.6"/>
<text x="333.93" y="1904.4" font-size="29.3">Grass</text>
<rect x="439.6" y="1880" width="41.4" height="26.4" fill="#4a79b2" stroke="#000" stroke-width="1.6"/>
<text x="490.51" y="1904.4" font-size="29.3">Coniferous forest</text>
<rect x="738.3" y="1880" width="41.4" height="26.4" fill="#8e3626" stroke="#000" stroke-width="1.6"/>
<text x="789.37" y="1904.4" font-size="29.3">Shrub</text>
<rect x="894.1" y="1880" width="41.4" height="26.4" fill="#9b7c85" stroke="#000" stroke-width="1.6"/>
<text x="944.1" y="1904.4" font-size="29.3">EBF</text>
<rect x="1027.6" y="1880" width="41.4" height="26.4" fill="#cca200" stroke="#000" stroke-width="1.6"/>
<text x="1078.67" y="1904.4" font-size="29.3">Savanna</text>
<rect x="1221.5" y="1880" width="41.4" height="26.4" fill="#a20052" stroke="#000" stroke-width="1.6"/>
<text x="1272.41" y="1904.4" font-size="29.3">Cropland</text>
<rect x="1417.1" y="1880" width="41.4" height="26.4" fill="#000000" stroke="#000" stroke-width="1.6"/>
<text x="1467.1" y="1904.4" font-size="29.3">DBF</text>
</svg>
</body></html>
